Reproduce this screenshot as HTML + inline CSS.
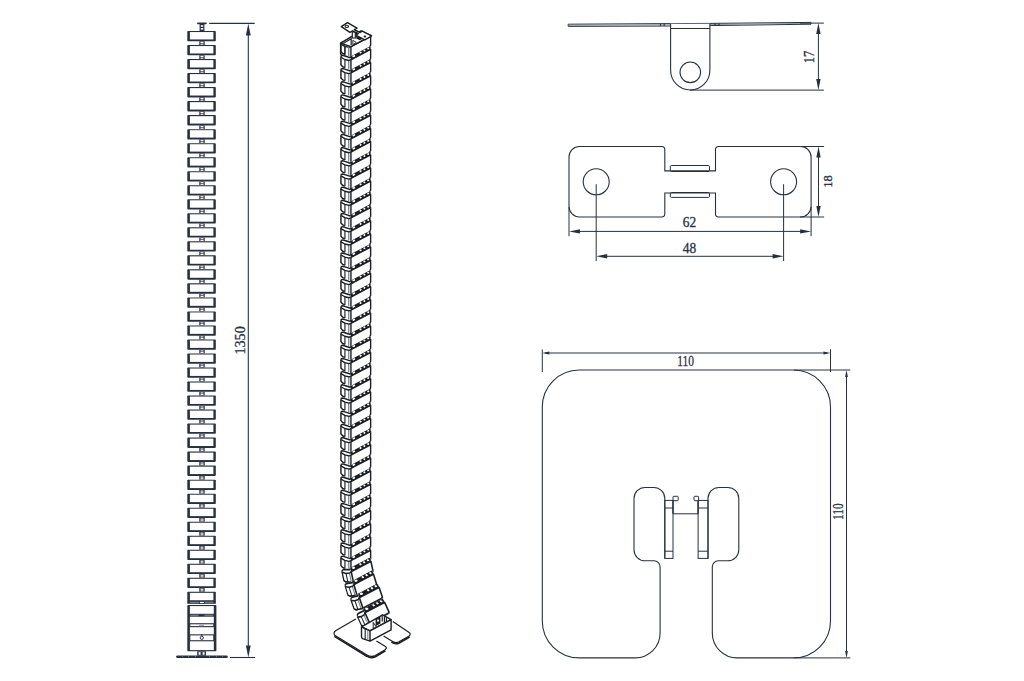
<!DOCTYPE html>
<html><head><meta charset="utf-8"><style>
html,body{margin:0;padding:0;background:#fff;}
svg{display:block;}
text{font-family:"Liberation Serif",serif;}
</style></head><body>
<svg width="1024" height="681" viewBox="0 0 1024 681">
<rect width="1024" height="681" fill="#fff"/>
<rect x="199.6" y="23.4" width="4.8" height="7.6" fill="#283040"/>
<rect x="200.8" y="25.2" width="2.4" height="1.6" fill="#fff"/>
<rect x="200.8" y="28.0" width="2.4" height="1.6" fill="#fff"/>
<rect x="197.1" y="22.6" width="9.6" height="1.6" rx="0.6" fill="#283040"/>
<rect x="187.3" y="31.00" width="28.50" height="10.3" rx="0.8" fill="#283040"/>
<rect x="189.90" y="32.05" width="23.50" height="7.4" fill="#fff"/>
<rect x="199.3" y="41.30" width="5.4" height="3.72" fill="#283040"/>
<rect x="200.5" y="41.90" width="3.0" height="1.1" fill="#fff"/>
<rect x="200.5" y="43.60" width="3.0" height="1.1" fill="#fff"/>
<rect x="187.3" y="45.02" width="28.50" height="10.3" rx="0.8" fill="#283040"/>
<rect x="189.90" y="46.07" width="23.50" height="7.4" fill="#fff"/>
<rect x="199.3" y="55.32" width="5.4" height="3.72" fill="#283040"/>
<rect x="200.5" y="55.92" width="3.0" height="1.1" fill="#fff"/>
<rect x="200.5" y="57.62" width="3.0" height="1.1" fill="#fff"/>
<rect x="187.3" y="59.04" width="28.50" height="10.3" rx="0.8" fill="#283040"/>
<rect x="189.90" y="60.09" width="23.50" height="7.4" fill="#fff"/>
<rect x="199.3" y="69.34" width="5.4" height="3.72" fill="#283040"/>
<rect x="200.5" y="69.94" width="3.0" height="1.1" fill="#fff"/>
<rect x="200.5" y="71.64" width="3.0" height="1.1" fill="#fff"/>
<rect x="187.3" y="73.06" width="28.50" height="10.3" rx="0.8" fill="#283040"/>
<rect x="189.90" y="74.11" width="23.50" height="7.4" fill="#fff"/>
<rect x="199.3" y="83.36" width="5.4" height="3.72" fill="#283040"/>
<rect x="200.5" y="83.96" width="3.0" height="1.1" fill="#fff"/>
<rect x="200.5" y="85.66" width="3.0" height="1.1" fill="#fff"/>
<rect x="187.3" y="87.08" width="28.50" height="10.3" rx="0.8" fill="#283040"/>
<rect x="189.90" y="88.13" width="23.50" height="7.4" fill="#fff"/>
<rect x="199.3" y="97.38" width="5.4" height="3.72" fill="#283040"/>
<rect x="200.5" y="97.98" width="3.0" height="1.1" fill="#fff"/>
<rect x="200.5" y="99.68" width="3.0" height="1.1" fill="#fff"/>
<rect x="187.3" y="101.10" width="28.50" height="10.3" rx="0.8" fill="#283040"/>
<rect x="189.90" y="102.15" width="23.50" height="7.4" fill="#fff"/>
<rect x="199.3" y="111.40" width="5.4" height="3.72" fill="#283040"/>
<rect x="200.5" y="112.00" width="3.0" height="1.1" fill="#fff"/>
<rect x="200.5" y="113.70" width="3.0" height="1.1" fill="#fff"/>
<rect x="187.3" y="115.12" width="28.50" height="10.3" rx="0.8" fill="#283040"/>
<rect x="189.90" y="116.17" width="23.50" height="7.4" fill="#fff"/>
<rect x="199.3" y="125.42" width="5.4" height="3.72" fill="#283040"/>
<rect x="200.5" y="126.02" width="3.0" height="1.1" fill="#fff"/>
<rect x="200.5" y="127.72" width="3.0" height="1.1" fill="#fff"/>
<rect x="187.3" y="129.14" width="28.50" height="10.3" rx="0.8" fill="#283040"/>
<rect x="189.90" y="130.19" width="23.50" height="7.4" fill="#fff"/>
<rect x="199.3" y="139.44" width="5.4" height="3.72" fill="#283040"/>
<rect x="200.5" y="140.04" width="3.0" height="1.1" fill="#fff"/>
<rect x="200.5" y="141.74" width="3.0" height="1.1" fill="#fff"/>
<rect x="187.3" y="143.16" width="28.50" height="10.3" rx="0.8" fill="#283040"/>
<rect x="189.90" y="144.21" width="23.50" height="7.4" fill="#fff"/>
<rect x="199.3" y="153.46" width="5.4" height="3.72" fill="#283040"/>
<rect x="200.5" y="154.06" width="3.0" height="1.1" fill="#fff"/>
<rect x="200.5" y="155.76" width="3.0" height="1.1" fill="#fff"/>
<rect x="187.3" y="157.18" width="28.50" height="10.3" rx="0.8" fill="#283040"/>
<rect x="189.90" y="158.23" width="23.50" height="7.4" fill="#fff"/>
<rect x="199.3" y="167.48" width="5.4" height="3.72" fill="#283040"/>
<rect x="200.5" y="168.08" width="3.0" height="1.1" fill="#fff"/>
<rect x="200.5" y="169.78" width="3.0" height="1.1" fill="#fff"/>
<rect x="187.3" y="171.20" width="28.50" height="10.3" rx="0.8" fill="#283040"/>
<rect x="189.90" y="172.25" width="23.50" height="7.4" fill="#fff"/>
<rect x="199.3" y="181.50" width="5.4" height="3.72" fill="#283040"/>
<rect x="200.5" y="182.10" width="3.0" height="1.1" fill="#fff"/>
<rect x="200.5" y="183.80" width="3.0" height="1.1" fill="#fff"/>
<rect x="187.3" y="185.22" width="28.50" height="10.3" rx="0.8" fill="#283040"/>
<rect x="189.90" y="186.27" width="23.50" height="7.4" fill="#fff"/>
<rect x="199.3" y="195.52" width="5.4" height="3.72" fill="#283040"/>
<rect x="200.5" y="196.12" width="3.0" height="1.1" fill="#fff"/>
<rect x="200.5" y="197.82" width="3.0" height="1.1" fill="#fff"/>
<rect x="187.3" y="199.24" width="28.50" height="10.3" rx="0.8" fill="#283040"/>
<rect x="189.90" y="200.29" width="23.50" height="7.4" fill="#fff"/>
<rect x="199.3" y="209.54" width="5.4" height="3.72" fill="#283040"/>
<rect x="200.5" y="210.14" width="3.0" height="1.1" fill="#fff"/>
<rect x="200.5" y="211.84" width="3.0" height="1.1" fill="#fff"/>
<rect x="187.3" y="213.26" width="28.50" height="10.3" rx="0.8" fill="#283040"/>
<rect x="189.90" y="214.31" width="23.50" height="7.4" fill="#fff"/>
<rect x="199.3" y="223.56" width="5.4" height="3.72" fill="#283040"/>
<rect x="200.5" y="224.16" width="3.0" height="1.1" fill="#fff"/>
<rect x="200.5" y="225.86" width="3.0" height="1.1" fill="#fff"/>
<rect x="187.3" y="227.28" width="28.50" height="10.3" rx="0.8" fill="#283040"/>
<rect x="189.90" y="228.33" width="23.50" height="7.4" fill="#fff"/>
<rect x="199.3" y="237.58" width="5.4" height="3.72" fill="#283040"/>
<rect x="200.5" y="238.18" width="3.0" height="1.1" fill="#fff"/>
<rect x="200.5" y="239.88" width="3.0" height="1.1" fill="#fff"/>
<rect x="187.3" y="241.30" width="28.50" height="10.3" rx="0.8" fill="#283040"/>
<rect x="189.90" y="242.35" width="23.50" height="7.4" fill="#fff"/>
<rect x="199.3" y="251.60" width="5.4" height="3.72" fill="#283040"/>
<rect x="200.5" y="252.20" width="3.0" height="1.1" fill="#fff"/>
<rect x="200.5" y="253.90" width="3.0" height="1.1" fill="#fff"/>
<rect x="187.3" y="255.32" width="28.50" height="10.3" rx="0.8" fill="#283040"/>
<rect x="189.90" y="256.37" width="23.50" height="7.4" fill="#fff"/>
<rect x="199.3" y="265.62" width="5.4" height="3.72" fill="#283040"/>
<rect x="200.5" y="266.22" width="3.0" height="1.1" fill="#fff"/>
<rect x="200.5" y="267.92" width="3.0" height="1.1" fill="#fff"/>
<rect x="187.3" y="269.34" width="28.50" height="10.3" rx="0.8" fill="#283040"/>
<rect x="189.90" y="270.39" width="23.50" height="7.4" fill="#fff"/>
<rect x="199.3" y="279.64" width="5.4" height="3.72" fill="#283040"/>
<rect x="200.5" y="280.24" width="3.0" height="1.1" fill="#fff"/>
<rect x="200.5" y="281.94" width="3.0" height="1.1" fill="#fff"/>
<rect x="187.3" y="283.36" width="28.50" height="10.3" rx="0.8" fill="#283040"/>
<rect x="189.90" y="284.41" width="23.50" height="7.4" fill="#fff"/>
<rect x="199.3" y="293.66" width="5.4" height="3.72" fill="#283040"/>
<rect x="200.5" y="294.26" width="3.0" height="1.1" fill="#fff"/>
<rect x="200.5" y="295.96" width="3.0" height="1.1" fill="#fff"/>
<rect x="187.3" y="297.38" width="28.50" height="10.3" rx="0.8" fill="#283040"/>
<rect x="189.90" y="298.43" width="23.50" height="7.4" fill="#fff"/>
<rect x="199.3" y="307.68" width="5.4" height="3.72" fill="#283040"/>
<rect x="200.5" y="308.28" width="3.0" height="1.1" fill="#fff"/>
<rect x="200.5" y="309.98" width="3.0" height="1.1" fill="#fff"/>
<rect x="187.3" y="311.40" width="28.50" height="10.3" rx="0.8" fill="#283040"/>
<rect x="189.90" y="312.45" width="23.50" height="7.4" fill="#fff"/>
<rect x="199.3" y="321.70" width="5.4" height="3.72" fill="#283040"/>
<rect x="200.5" y="322.30" width="3.0" height="1.1" fill="#fff"/>
<rect x="200.5" y="324.00" width="3.0" height="1.1" fill="#fff"/>
<rect x="187.3" y="325.42" width="28.50" height="10.3" rx="0.8" fill="#283040"/>
<rect x="189.90" y="326.47" width="23.50" height="7.4" fill="#fff"/>
<rect x="199.3" y="335.72" width="5.4" height="3.72" fill="#283040"/>
<rect x="200.5" y="336.32" width="3.0" height="1.1" fill="#fff"/>
<rect x="200.5" y="338.02" width="3.0" height="1.1" fill="#fff"/>
<rect x="187.3" y="339.44" width="28.50" height="10.3" rx="0.8" fill="#283040"/>
<rect x="189.90" y="340.49" width="23.50" height="7.4" fill="#fff"/>
<rect x="199.3" y="349.74" width="5.4" height="3.72" fill="#283040"/>
<rect x="200.5" y="350.34" width="3.0" height="1.1" fill="#fff"/>
<rect x="200.5" y="352.04" width="3.0" height="1.1" fill="#fff"/>
<rect x="187.3" y="353.46" width="28.50" height="10.3" rx="0.8" fill="#283040"/>
<rect x="189.90" y="354.51" width="23.50" height="7.4" fill="#fff"/>
<rect x="199.3" y="363.76" width="5.4" height="3.72" fill="#283040"/>
<rect x="200.5" y="364.36" width="3.0" height="1.1" fill="#fff"/>
<rect x="200.5" y="366.06" width="3.0" height="1.1" fill="#fff"/>
<rect x="187.3" y="367.48" width="28.50" height="10.3" rx="0.8" fill="#283040"/>
<rect x="189.90" y="368.53" width="23.50" height="7.4" fill="#fff"/>
<rect x="199.3" y="377.78" width="5.4" height="3.72" fill="#283040"/>
<rect x="200.5" y="378.38" width="3.0" height="1.1" fill="#fff"/>
<rect x="200.5" y="380.08" width="3.0" height="1.1" fill="#fff"/>
<rect x="187.3" y="381.50" width="28.50" height="10.3" rx="0.8" fill="#283040"/>
<rect x="189.90" y="382.55" width="23.50" height="7.4" fill="#fff"/>
<rect x="199.3" y="391.80" width="5.4" height="3.72" fill="#283040"/>
<rect x="200.5" y="392.40" width="3.0" height="1.1" fill="#fff"/>
<rect x="200.5" y="394.10" width="3.0" height="1.1" fill="#fff"/>
<rect x="187.3" y="395.52" width="28.50" height="10.3" rx="0.8" fill="#283040"/>
<rect x="189.90" y="396.57" width="23.50" height="7.4" fill="#fff"/>
<rect x="199.3" y="405.82" width="5.4" height="3.72" fill="#283040"/>
<rect x="200.5" y="406.42" width="3.0" height="1.1" fill="#fff"/>
<rect x="200.5" y="408.12" width="3.0" height="1.1" fill="#fff"/>
<rect x="187.3" y="409.54" width="28.50" height="10.3" rx="0.8" fill="#283040"/>
<rect x="189.90" y="410.59" width="23.50" height="7.4" fill="#fff"/>
<rect x="199.3" y="419.84" width="5.4" height="3.72" fill="#283040"/>
<rect x="200.5" y="420.44" width="3.0" height="1.1" fill="#fff"/>
<rect x="200.5" y="422.14" width="3.0" height="1.1" fill="#fff"/>
<rect x="187.3" y="423.56" width="28.50" height="10.3" rx="0.8" fill="#283040"/>
<rect x="189.90" y="424.61" width="23.50" height="7.4" fill="#fff"/>
<rect x="199.3" y="433.86" width="5.4" height="3.72" fill="#283040"/>
<rect x="200.5" y="434.46" width="3.0" height="1.1" fill="#fff"/>
<rect x="200.5" y="436.16" width="3.0" height="1.1" fill="#fff"/>
<rect x="187.3" y="437.58" width="28.50" height="10.3" rx="0.8" fill="#283040"/>
<rect x="189.90" y="438.63" width="23.50" height="7.4" fill="#fff"/>
<rect x="199.3" y="447.88" width="5.4" height="3.72" fill="#283040"/>
<rect x="200.5" y="448.48" width="3.0" height="1.1" fill="#fff"/>
<rect x="200.5" y="450.18" width="3.0" height="1.1" fill="#fff"/>
<rect x="187.3" y="451.60" width="28.50" height="10.3" rx="0.8" fill="#283040"/>
<rect x="189.90" y="452.65" width="23.50" height="7.4" fill="#fff"/>
<rect x="199.3" y="461.90" width="5.4" height="3.72" fill="#283040"/>
<rect x="200.5" y="462.50" width="3.0" height="1.1" fill="#fff"/>
<rect x="200.5" y="464.20" width="3.0" height="1.1" fill="#fff"/>
<rect x="187.3" y="465.62" width="28.50" height="10.3" rx="0.8" fill="#283040"/>
<rect x="189.90" y="466.67" width="23.50" height="7.4" fill="#fff"/>
<rect x="199.3" y="475.92" width="5.4" height="3.72" fill="#283040"/>
<rect x="200.5" y="476.52" width="3.0" height="1.1" fill="#fff"/>
<rect x="200.5" y="478.22" width="3.0" height="1.1" fill="#fff"/>
<rect x="187.3" y="479.64" width="28.50" height="10.3" rx="0.8" fill="#283040"/>
<rect x="189.90" y="480.69" width="23.50" height="7.4" fill="#fff"/>
<rect x="199.3" y="489.94" width="5.4" height="3.72" fill="#283040"/>
<rect x="200.5" y="490.54" width="3.0" height="1.1" fill="#fff"/>
<rect x="200.5" y="492.24" width="3.0" height="1.1" fill="#fff"/>
<rect x="187.3" y="493.66" width="28.50" height="10.3" rx="0.8" fill="#283040"/>
<rect x="189.90" y="494.71" width="23.50" height="7.4" fill="#fff"/>
<rect x="199.3" y="503.96" width="5.4" height="3.72" fill="#283040"/>
<rect x="200.5" y="504.56" width="3.0" height="1.1" fill="#fff"/>
<rect x="200.5" y="506.26" width="3.0" height="1.1" fill="#fff"/>
<rect x="187.3" y="507.68" width="28.50" height="10.3" rx="0.8" fill="#283040"/>
<rect x="189.90" y="508.73" width="23.50" height="7.4" fill="#fff"/>
<rect x="199.3" y="517.98" width="5.4" height="3.72" fill="#283040"/>
<rect x="200.5" y="518.58" width="3.0" height="1.1" fill="#fff"/>
<rect x="200.5" y="520.28" width="3.0" height="1.1" fill="#fff"/>
<rect x="187.3" y="521.70" width="28.50" height="10.3" rx="0.8" fill="#283040"/>
<rect x="189.90" y="522.75" width="23.50" height="7.4" fill="#fff"/>
<rect x="199.3" y="532.00" width="5.4" height="3.72" fill="#283040"/>
<rect x="200.5" y="532.60" width="3.0" height="1.1" fill="#fff"/>
<rect x="200.5" y="534.30" width="3.0" height="1.1" fill="#fff"/>
<rect x="187.3" y="535.72" width="28.50" height="10.3" rx="0.8" fill="#283040"/>
<rect x="189.90" y="536.77" width="23.50" height="7.4" fill="#fff"/>
<rect x="199.3" y="546.02" width="5.4" height="3.72" fill="#283040"/>
<rect x="200.5" y="546.62" width="3.0" height="1.1" fill="#fff"/>
<rect x="200.5" y="548.32" width="3.0" height="1.1" fill="#fff"/>
<rect x="187.3" y="549.74" width="28.50" height="10.3" rx="0.8" fill="#283040"/>
<rect x="189.90" y="550.79" width="23.50" height="7.4" fill="#fff"/>
<rect x="199.3" y="560.04" width="5.4" height="3.72" fill="#283040"/>
<rect x="200.5" y="560.64" width="3.0" height="1.1" fill="#fff"/>
<rect x="200.5" y="562.34" width="3.0" height="1.1" fill="#fff"/>
<rect x="187.3" y="563.76" width="28.50" height="10.3" rx="0.8" fill="#283040"/>
<rect x="189.90" y="564.81" width="23.50" height="7.4" fill="#fff"/>
<rect x="199.3" y="574.06" width="5.4" height="3.72" fill="#283040"/>
<rect x="200.5" y="574.66" width="3.0" height="1.1" fill="#fff"/>
<rect x="200.5" y="576.36" width="3.0" height="1.1" fill="#fff"/>
<rect x="187.3" y="577.78" width="28.50" height="10.3" rx="0.8" fill="#283040"/>
<rect x="189.90" y="578.83" width="23.50" height="7.4" fill="#fff"/>
<rect x="199.3" y="588.08" width="5.4" height="3.72" fill="#283040"/>
<rect x="200.5" y="588.68" width="3.0" height="1.1" fill="#fff"/>
<rect x="200.5" y="590.38" width="3.0" height="1.1" fill="#fff"/>
<rect x="187.3" y="591.80" width="28.50" height="10.3" rx="0.8" fill="#283040"/>
<rect x="189.90" y="592.85" width="23.50" height="7.4" fill="#fff"/>
<rect x="187.3" y="601.20" width="28.50" height="2.6" fill="#283040"/>
<rect x="189.90" y="601.80" width="23.50" height="0.9" fill="#9aa0a8"/>
<rect x="199.5" y="601.40" width="5" height="2.2" fill="#fff" stroke="#283040" stroke-width="0.8"/>
<rect x="187.3" y="605.0" width="29.10" height="46.3" rx="0.8" fill="#283040"/>
<rect x="189.90" y="606.1" width="23.90" height="44.0" fill="#fff"/>
<rect x="189.30" y="613.8" width="24.90" height="2.9" fill="#283040"/>
<rect x="190.30" y="614.7" width="22.90" height="1.0" fill="#8e949c"/>
<rect x="198.5" y="614.4" width="6" height="1.8" fill="#283040"/>
<rect x="189.30" y="623.2" width="24.90" height="4.0" fill="#283040"/>
<rect x="190.30" y="624.3" width="22.90" height="1.8" fill="#fff"/>
<rect x="199" y="624.3" width="5" height="1.8" fill="#aab"/>
<rect x="189.30" y="634.3" width="24.90" height="7.0" fill="#283040"/>
<rect x="190.30" y="635.4" width="22.90" height="4.8" fill="#fff"/>
<circle cx="201.8" cy="637.8" r="1.6" fill="none" stroke="#283040" stroke-width="1"/>
<line x1="201.8" y1="634.3" x2="201.8" y2="636" stroke="#283040" stroke-width="1"/>
<rect x="197.2" y="651.3" width="8.8" height="4.4" fill="#283040"/>
<rect x="198.6" y="652.2" width="2.0" height="2.6" fill="#fff"/>
<rect x="202.6" y="652.2" width="2.0" height="2.6" fill="#fff"/>
<rect x="176.1" y="655.4" width="51.7" height="2.6" rx="1.3" fill="#283040"/>
<rect x="182" y="656.3" width="0.8" height="0.8" fill="#9aa0a8"/>
<rect x="188" y="656.3" width="0.8" height="0.8" fill="#9aa0a8"/>
<rect x="195" y="656.3" width="0.8" height="0.8" fill="#9aa0a8"/>
<rect x="209" y="656.3" width="0.8" height="0.8" fill="#9aa0a8"/>
<rect x="216" y="656.3" width="0.8" height="0.8" fill="#9aa0a8"/>
<rect x="222" y="656.3" width="0.8" height="0.8" fill="#9aa0a8"/>
<line x1="209.20" y1="23.40" x2="254.70" y2="23.40" stroke="#283040" stroke-width="1.1"/>
<line x1="230.00" y1="657.50" x2="255.00" y2="657.50" stroke="#283040" stroke-width="1.1"/>
<line x1="248.30" y1="30.00" x2="248.30" y2="650.00" stroke="#283040" stroke-width="1.1"/>
<path d="M248.30,23.40 L250.70,35.40 L245.90,35.40 Z" fill="#283040"/>
<path d="M248.30,657.50 L245.90,645.50 L250.70,645.50 Z" fill="#283040"/>
<text x="240.1" y="340.4" font-size="14.0" text-anchor="middle" dominant-baseline="central" fill="#283040" stroke="#283040" stroke-width="0.3" textLength="28.2" lengthAdjust="spacingAndGlyphs" transform="rotate(-90 240.1 340.4)">1350</text>
<path d="M568.2,24.2 L670.6,23.6 L709.9,23.4 L811,22.4 L811,24.2 L709.9,25.6 L670.6,26.0 L568.2,26.4 Z" fill="#fff" stroke="#283040" stroke-width="1"/>
<path d="M568.2,25.3 L670,24.8 M710,24.6 L811,23.3" stroke="#7a8088" stroke-width="0.8"/>
<rect x="659.9" y="23.9" width="1.2" height="2.0" fill="#283040"/>
<rect x="663.6" y="23.9" width="1.2" height="2.0" fill="#283040"/>
<rect x="714.4" y="23.5" width="1.2" height="1.9" fill="#283040"/>
<rect x="718.4" y="23.5" width="1.2" height="1.9" fill="#283040"/>
<path d="M670.6,23.8 L670.6,70.3 A19.65,19.65 0 0 0 709.9,70.3 L709.9,23.8" fill="#fff" stroke="#283040" stroke-width="1.1"/>
<line x1="670.60" y1="28.50" x2="709.90" y2="28.50" stroke="#283040" stroke-width="1.0"/>
<circle cx="690.3" cy="72.3" r="10.3" fill="none" stroke="#283040" stroke-width="1.1"/>
<line x1="800.00" y1="23.10" x2="823.90" y2="23.10" stroke="#283040" stroke-width="1.0"/>
<line x1="690.00" y1="90.10" x2="823.90" y2="90.10" stroke="#283040" stroke-width="1.0"/>
<line x1="818.40" y1="30.00" x2="818.40" y2="83.00" stroke="#283040" stroke-width="1.0"/>
<path d="M818.40,23.10 L820.60,34.10 L816.20,34.10 Z" fill="#283040"/>
<path d="M818.40,90.10 L816.20,79.10 L820.60,79.10 Z" fill="#283040"/>
<text x="809.6" y="56.9" font-size="13.8" text-anchor="middle" dominant-baseline="central" fill="#283040" stroke="#283040" stroke-width="0.3" textLength="12.6" lengthAdjust="spacingAndGlyphs" transform="rotate(-90 809.6 56.9)">17</text>
<path d="M579.5,146.5 L661.5999999999999,146.5 Q664.8,146.5 664.8,149.7 L664.8,170.9 L715.5,170.9 L715.5,149.7 Q715.5,146.5 718.7,146.5 L800.6,146.5 A10.5,10.5 0 0 1 811.1,157.0 L811.1,206.5 A10.5,10.5 0 0 1 800.6,217.0 L718.7,217.0 Q715.5,217.0 715.5,213.8 L715.5,193.0 L664.8,193.0 L664.8,213.8 Q664.8,217.0 661.5999999999999,217.0 L579.5,217.0 A10.5,10.5 0 0 1 569.0,206.5 L569.0,157.0 A10.5,10.5 0 0 1 579.5,146.5 Z" fill="none" stroke="#283040" stroke-width="1.1"/>
<rect x="670.3" y="165.5" width="39.2" height="6.0" rx="1.2" fill="none" stroke="#283040" stroke-width="1"/>
<rect x="670.3" y="192.5" width="39.2" height="4.9" rx="1.2" fill="none" stroke="#283040" stroke-width="1"/>
<circle cx="596.2" cy="181.8" r="13" fill="none" stroke="#283040" stroke-width="1.1"/>
<circle cx="783.6" cy="181.8" r="13" fill="none" stroke="#283040" stroke-width="1.1"/>
<line x1="800.00" y1="146.50" x2="824.10" y2="146.50" stroke="#283040" stroke-width="1.0"/>
<line x1="800.00" y1="217.00" x2="824.10" y2="217.00" stroke="#283040" stroke-width="1.0"/>
<line x1="818.50" y1="152.00" x2="818.50" y2="211.00" stroke="#283040" stroke-width="1.0"/>
<path d="M818.50,146.50 L820.70,157.50 L816.30,157.50 Z" fill="#283040"/>
<path d="M818.50,217.00 L816.30,206.00 L820.70,206.00 Z" fill="#283040"/>
<text x="827.2" y="181.6" font-size="13.5" text-anchor="middle" dominant-baseline="central" fill="#283040" stroke="#283040" stroke-width="0.3" textLength="12.5" lengthAdjust="spacingAndGlyphs" transform="rotate(-90 827.2 181.6)">18</text>
<line x1="569.00" y1="207.00" x2="569.00" y2="236.20" stroke="#283040" stroke-width="1.0"/>
<line x1="811.10" y1="207.00" x2="811.10" y2="236.20" stroke="#283040" stroke-width="1.0"/>
<line x1="575.00" y1="231.40" x2="805.00" y2="231.40" stroke="#283040" stroke-width="1.0"/>
<path d="M569.00,231.40 L580.00,229.20 L580.00,233.60 Z" fill="#283040"/>
<path d="M811.10,231.40 L800.10,233.60 L800.10,229.20 Z" fill="#283040"/>
<text x="689.5" y="222.6" font-size="13.9" text-anchor="middle" dominant-baseline="central" fill="#283040" stroke="#283040" stroke-width="0.3" textLength="13.4" lengthAdjust="spacingAndGlyphs">62</text>
<line x1="596.20" y1="184.20" x2="596.20" y2="261.00" stroke="#283040" stroke-width="1.0"/>
<line x1="783.60" y1="184.20" x2="783.60" y2="261.00" stroke="#283040" stroke-width="1.0"/>
<line x1="602.00" y1="256.30" x2="778.00" y2="256.30" stroke="#283040" stroke-width="1.0"/>
<path d="M596.20,256.30 L607.20,254.10 L607.20,258.50 Z" fill="#283040"/>
<path d="M783.60,256.30 L772.60,258.50 L772.60,254.10 Z" fill="#283040"/>
<text x="689.5" y="248.3" font-size="13.9" text-anchor="middle" dominant-baseline="central" fill="#283040" stroke="#283040" stroke-width="0.3" textLength="13.4" lengthAdjust="spacingAndGlyphs">48</text>
<path d="M579.3,370.0 L793.5,370.0 A37,37 0 0 1 830.5,407.0 L830.5,620.9 A37,37 0 0 1 793.5,657.9 L737.3,657.9 A25,25 0 0 1 712.3,632.9 L712.3,566.8 A6,6 0 0 1 718.3,560.8 L727.8,560.8 A11,11 0 0 0 738.8,549.8 L738.8,498.5 A11,11 0 0 0 727.8,487.5 L719,487.5 A11,11 0 0 0 708,498.5 L708,558.4 M664.8,558.4 L664.8,498.5 A11,11 0 0 0 653.8,487.5 L645.0,487.5 A11,11 0 0 0 634.0,498.5 L634.0,549.8 A11,11 0 0 0 645.0,560.8 L654.1,560.8 A6,6 0 0 1 660.1,566.8 L660.1,632.9 A25,25 0 0 1 635.1,657.9 L579.3,657.9 A37,37 0 0 1 542.3,620.9 L542.3,407.0 A37,37 0 0 1 579.3,370.0" fill="none" stroke="#283040" stroke-width="1.1"/>
<rect x="664.8" y="500.4" width="8.2" height="58.0" fill="none" stroke="#283040" stroke-width="1"/>
<line x1="664.80" y1="508.00" x2="673.00" y2="508.00" stroke="#283040" stroke-width="1.0"/>
<line x1="664.80" y1="551.20" x2="673.00" y2="551.20" stroke="#283040" stroke-width="1.0"/>
<rect x="698.1" y="500.4" width="9.9" height="58.0" fill="none" stroke="#283040" stroke-width="1"/>
<line x1="698.10" y1="508.00" x2="708.00" y2="508.00" stroke="#283040" stroke-width="1.0"/>
<line x1="698.10" y1="551.20" x2="708.00" y2="551.20" stroke="#283040" stroke-width="1.0"/>
<path d="M673,513.8 L698.1,513.8" stroke="#283040" stroke-width="1"/>
<rect x="673" y="496.3" width="5.2" height="4.4" rx="0.8" fill="none" stroke="#283040" stroke-width="1"/>
<rect x="694" y="496.3" width="4.6" height="4.4" rx="0.8" fill="none" stroke="#283040" stroke-width="1"/>
<line x1="673" y1="500.4" x2="673" y2="513.8" stroke="#283040" stroke-width="1.4"/>
<line x1="698.1" y1="500.4" x2="698.1" y2="513.8" stroke="#283040" stroke-width="1.4"/>
<line x1="542.30" y1="349.50" x2="542.30" y2="372.00" stroke="#283040" stroke-width="1.0"/>
<line x1="830.50" y1="349.20" x2="830.50" y2="372.00" stroke="#283040" stroke-width="1.0"/>
<line x1="545.00" y1="353.00" x2="827.00" y2="353.00" stroke="#283040" stroke-width="1.0"/>
<path d="M542.30,353.00 L549.30,351.60 L549.30,354.40 Z" fill="#283040"/>
<path d="M830.50,353.00 L823.50,354.40 L823.50,351.60 Z" fill="#283040"/>
<text x="685.7" y="360.8" font-size="15.3" text-anchor="middle" dominant-baseline="central" fill="#283040" stroke="#283040" stroke-width="0.3" textLength="16.8" lengthAdjust="spacingAndGlyphs">110</text>
<line x1="794.00" y1="370.00" x2="850.30" y2="370.00" stroke="#283040" stroke-width="1.0"/>
<line x1="794.00" y1="657.90" x2="850.40" y2="657.90" stroke="#283040" stroke-width="1.0"/>
<line x1="846.50" y1="374.00" x2="846.50" y2="654.00" stroke="#283040" stroke-width="1.0"/>
<path d="M846.50,370.00 L847.90,377.00 L845.10,377.00 Z" fill="#283040"/>
<path d="M846.50,657.90 L845.10,650.90 L847.90,650.90 Z" fill="#283040"/>
<text x="837.9" y="511.7" font-size="15.3" text-anchor="middle" dominant-baseline="central" fill="#283040" stroke="#283040" stroke-width="0.3" textLength="16.5" lengthAdjust="spacingAndGlyphs" transform="rotate(-90 837.9 511.7)">110</text>
<g transform="translate(350.93,46.60)"><path d="M-10.3,-3.0 Q-10.3,-4.6 -8.3,-4.6 L-6.1,-3.9 L0,-3.45 L0,9.75 L-6.1,7.9 L-8.3,7.1 L-10.3,5.1 Z" fill="#fff"/><path d="M-10.0,-3.0 L-10.0,5.0 L-8.3,6.9 L-6.1,7.7" fill="none" stroke="#1b1e23" stroke-width="1.45" stroke-linejoin="round"/><line x1="-6.0" y1="-0.3" x2="-6.0" y2="7.9" stroke="#1b1e23" stroke-width="1.15"/><line x1="-2.2" y1="0.6" x2="-2.2" y2="9.6" stroke="#7a8088" stroke-width="1.2"/><path d="M-10.0,-2.9 Q-10.0,-4.4 -8.3,-4.45 L-6.1,-3.8 L-0.6,-2.0 L0,-3.45" fill="none" stroke="#1b1e23" stroke-width="1.45" stroke-linejoin="round"/><path d="M-10.0,-2.5 L-6.1,-0.3 L-1.9,0.7 L0,-0.1" fill="none" stroke="#1b1e23" stroke-width="1.35" stroke-linejoin="round"/><path d="M0,-3.45 L19.7,-13.79 L19.7,-0.59 L0,9.75 Z" fill="#fff"/><path d="M0,0 L19.7,-10.34 L19.7,-1.79 Q19.7,-0.59 18.60,0.01" fill="none" stroke="#1b1e23" stroke-width="1.4" stroke-linejoin="round"/><line x1="0" y1="-0.3" x2="0" y2="9.75" stroke="#1b1e23" stroke-width="1.4"/></g>
<g transform="translate(350.93,59.78)"><path d="M-10.3,-3.0 Q-10.3,-4.6 -8.3,-4.6 L-6.1,-3.9 L0,-3.45 L0,9.75 L-6.1,7.9 L-8.3,7.1 L-10.3,5.1 Z" fill="#fff"/><path d="M-10.0,-3.0 L-10.0,5.0 L-8.3,6.9 L-6.1,7.7" fill="none" stroke="#1b1e23" stroke-width="1.45" stroke-linejoin="round"/><line x1="-6.0" y1="-0.3" x2="-6.0" y2="7.9" stroke="#1b1e23" stroke-width="1.15"/><line x1="-2.2" y1="0.6" x2="-2.2" y2="9.6" stroke="#7a8088" stroke-width="1.2"/><path d="M-10.0,-2.9 Q-10.0,-4.4 -8.3,-4.45 L-6.1,-3.8 L-0.6,-2.0 L0,-3.45" fill="none" stroke="#1b1e23" stroke-width="1.45" stroke-linejoin="round"/><path d="M-10.0,-2.5 L-6.1,-0.3 L-1.9,0.7 L0,-0.1" fill="none" stroke="#1b1e23" stroke-width="1.35" stroke-linejoin="round"/><path d="M0,-3.45 L19.7,-13.79 L19.7,-0.59 L0,9.75 Z" fill="#fff"/><path d="M0,-3.45 L19.10,-13.59 Q19.7,-13.39 19.7,-12.59 L19.7,-10.34 L0,0 Z" fill="#1b1e23"/><rect x="1.50" y="-4.50" width="2.8" height="1.8" rx="0.7" fill="#fff" transform="rotate(-27 2.90 -3.55)"/><rect x="8.70" y="-8.07" width="2.0" height="1.8" rx="0.7" fill="#fff" transform="rotate(-27 9.70 -7.12)"/><rect x="12.50" y="-10.06" width="2.0" height="1.8" rx="0.7" fill="#fff" transform="rotate(-27 13.50 -9.11)"/><rect x="16.30" y="-12.06" width="2.0" height="1.8" rx="0.7" fill="#fff" transform="rotate(-27 17.30 -11.11)"/><path d="M0,0 L19.7,-10.34 L19.7,-1.79 Q19.7,-0.59 18.60,0.01" fill="none" stroke="#1b1e23" stroke-width="1.4" stroke-linejoin="round"/><line x1="0" y1="-0.3" x2="0" y2="9.75" stroke="#1b1e23" stroke-width="1.4"/></g>
<g transform="translate(350.93,72.96)"><path d="M-10.3,-3.0 Q-10.3,-4.6 -8.3,-4.6 L-6.1,-3.9 L0,-3.45 L0,9.75 L-6.1,7.9 L-8.3,7.1 L-10.3,5.1 Z" fill="#fff"/><path d="M-10.0,-3.0 L-10.0,5.0 L-8.3,6.9 L-6.1,7.7" fill="none" stroke="#1b1e23" stroke-width="1.45" stroke-linejoin="round"/><line x1="-6.0" y1="-0.3" x2="-6.0" y2="7.9" stroke="#1b1e23" stroke-width="1.15"/><line x1="-2.2" y1="0.6" x2="-2.2" y2="9.6" stroke="#7a8088" stroke-width="1.2"/><path d="M-10.0,-2.9 Q-10.0,-4.4 -8.3,-4.45 L-6.1,-3.8 L-0.6,-2.0 L0,-3.45" fill="none" stroke="#1b1e23" stroke-width="1.45" stroke-linejoin="round"/><path d="M-10.0,-2.5 L-6.1,-0.3 L-1.9,0.7 L0,-0.1" fill="none" stroke="#1b1e23" stroke-width="1.35" stroke-linejoin="round"/><path d="M0,-3.45 L19.7,-13.79 L19.7,-0.59 L0,9.75 Z" fill="#fff"/><path d="M0,-3.45 L19.10,-13.59 Q19.7,-13.39 19.7,-12.59 L19.7,-10.34 L0,0 Z" fill="#1b1e23"/><rect x="1.50" y="-4.50" width="2.8" height="1.8" rx="0.7" fill="#fff" transform="rotate(-27 2.90 -3.55)"/><rect x="8.70" y="-8.07" width="2.0" height="1.8" rx="0.7" fill="#fff" transform="rotate(-27 9.70 -7.12)"/><rect x="12.50" y="-10.06" width="2.0" height="1.8" rx="0.7" fill="#fff" transform="rotate(-27 13.50 -9.11)"/><rect x="16.30" y="-12.06" width="2.0" height="1.8" rx="0.7" fill="#fff" transform="rotate(-27 17.30 -11.11)"/><path d="M0,0 L19.7,-10.34 L19.7,-1.79 Q19.7,-0.59 18.60,0.01" fill="none" stroke="#1b1e23" stroke-width="1.4" stroke-linejoin="round"/><line x1="0" y1="-0.3" x2="0" y2="9.75" stroke="#1b1e23" stroke-width="1.4"/></g>
<g transform="translate(350.93,86.14)"><path d="M-10.3,-3.0 Q-10.3,-4.6 -8.3,-4.6 L-6.1,-3.9 L0,-3.45 L0,9.75 L-6.1,7.9 L-8.3,7.1 L-10.3,5.1 Z" fill="#fff"/><path d="M-10.0,-3.0 L-10.0,5.0 L-8.3,6.9 L-6.1,7.7" fill="none" stroke="#1b1e23" stroke-width="1.45" stroke-linejoin="round"/><line x1="-6.0" y1="-0.3" x2="-6.0" y2="7.9" stroke="#1b1e23" stroke-width="1.15"/><line x1="-2.2" y1="0.6" x2="-2.2" y2="9.6" stroke="#7a8088" stroke-width="1.2"/><path d="M-10.0,-2.9 Q-10.0,-4.4 -8.3,-4.45 L-6.1,-3.8 L-0.6,-2.0 L0,-3.45" fill="none" stroke="#1b1e23" stroke-width="1.45" stroke-linejoin="round"/><path d="M-10.0,-2.5 L-6.1,-0.3 L-1.9,0.7 L0,-0.1" fill="none" stroke="#1b1e23" stroke-width="1.35" stroke-linejoin="round"/><path d="M0,-3.45 L19.7,-13.79 L19.7,-0.59 L0,9.75 Z" fill="#fff"/><path d="M0,-3.45 L19.10,-13.59 Q19.7,-13.39 19.7,-12.59 L19.7,-10.34 L0,0 Z" fill="#1b1e23"/><rect x="1.50" y="-4.50" width="2.8" height="1.8" rx="0.7" fill="#fff" transform="rotate(-27 2.90 -3.55)"/><rect x="8.70" y="-8.07" width="2.0" height="1.8" rx="0.7" fill="#fff" transform="rotate(-27 9.70 -7.12)"/><rect x="12.50" y="-10.06" width="2.0" height="1.8" rx="0.7" fill="#fff" transform="rotate(-27 13.50 -9.11)"/><rect x="16.30" y="-12.06" width="2.0" height="1.8" rx="0.7" fill="#fff" transform="rotate(-27 17.30 -11.11)"/><path d="M0,0 L19.7,-10.34 L19.7,-1.79 Q19.7,-0.59 18.60,0.01" fill="none" stroke="#1b1e23" stroke-width="1.4" stroke-linejoin="round"/><line x1="0" y1="-0.3" x2="0" y2="9.75" stroke="#1b1e23" stroke-width="1.4"/></g>
<g transform="translate(350.93,99.32)"><path d="M-10.3,-3.0 Q-10.3,-4.6 -8.3,-4.6 L-6.1,-3.9 L0,-3.45 L0,9.75 L-6.1,7.9 L-8.3,7.1 L-10.3,5.1 Z" fill="#fff"/><path d="M-10.0,-3.0 L-10.0,5.0 L-8.3,6.9 L-6.1,7.7" fill="none" stroke="#1b1e23" stroke-width="1.45" stroke-linejoin="round"/><line x1="-6.0" y1="-0.3" x2="-6.0" y2="7.9" stroke="#1b1e23" stroke-width="1.15"/><line x1="-2.2" y1="0.6" x2="-2.2" y2="9.6" stroke="#7a8088" stroke-width="1.2"/><path d="M-10.0,-2.9 Q-10.0,-4.4 -8.3,-4.45 L-6.1,-3.8 L-0.6,-2.0 L0,-3.45" fill="none" stroke="#1b1e23" stroke-width="1.45" stroke-linejoin="round"/><path d="M-10.0,-2.5 L-6.1,-0.3 L-1.9,0.7 L0,-0.1" fill="none" stroke="#1b1e23" stroke-width="1.35" stroke-linejoin="round"/><path d="M0,-3.45 L19.7,-13.79 L19.7,-0.59 L0,9.75 Z" fill="#fff"/><path d="M0,-3.45 L19.10,-13.59 Q19.7,-13.39 19.7,-12.59 L19.7,-10.34 L0,0 Z" fill="#1b1e23"/><rect x="1.50" y="-4.50" width="2.8" height="1.8" rx="0.7" fill="#fff" transform="rotate(-27 2.90 -3.55)"/><rect x="8.70" y="-8.07" width="2.0" height="1.8" rx="0.7" fill="#fff" transform="rotate(-27 9.70 -7.12)"/><rect x="12.50" y="-10.06" width="2.0" height="1.8" rx="0.7" fill="#fff" transform="rotate(-27 13.50 -9.11)"/><rect x="16.30" y="-12.06" width="2.0" height="1.8" rx="0.7" fill="#fff" transform="rotate(-27 17.30 -11.11)"/><path d="M0,0 L19.7,-10.34 L19.7,-1.79 Q19.7,-0.59 18.60,0.01" fill="none" stroke="#1b1e23" stroke-width="1.4" stroke-linejoin="round"/><line x1="0" y1="-0.3" x2="0" y2="9.75" stroke="#1b1e23" stroke-width="1.4"/></g>
<g transform="translate(350.93,112.50)"><path d="M-10.3,-3.0 Q-10.3,-4.6 -8.3,-4.6 L-6.1,-3.9 L0,-3.45 L0,9.75 L-6.1,7.9 L-8.3,7.1 L-10.3,5.1 Z" fill="#fff"/><path d="M-10.0,-3.0 L-10.0,5.0 L-8.3,6.9 L-6.1,7.7" fill="none" stroke="#1b1e23" stroke-width="1.45" stroke-linejoin="round"/><line x1="-6.0" y1="-0.3" x2="-6.0" y2="7.9" stroke="#1b1e23" stroke-width="1.15"/><line x1="-2.2" y1="0.6" x2="-2.2" y2="9.6" stroke="#7a8088" stroke-width="1.2"/><path d="M-10.0,-2.9 Q-10.0,-4.4 -8.3,-4.45 L-6.1,-3.8 L-0.6,-2.0 L0,-3.45" fill="none" stroke="#1b1e23" stroke-width="1.45" stroke-linejoin="round"/><path d="M-10.0,-2.5 L-6.1,-0.3 L-1.9,0.7 L0,-0.1" fill="none" stroke="#1b1e23" stroke-width="1.35" stroke-linejoin="round"/><path d="M0,-3.45 L19.7,-13.79 L19.7,-0.59 L0,9.75 Z" fill="#fff"/><path d="M0,-3.45 L19.10,-13.59 Q19.7,-13.39 19.7,-12.59 L19.7,-10.34 L0,0 Z" fill="#1b1e23"/><rect x="1.50" y="-4.50" width="2.8" height="1.8" rx="0.7" fill="#fff" transform="rotate(-27 2.90 -3.55)"/><rect x="8.70" y="-8.07" width="2.0" height="1.8" rx="0.7" fill="#fff" transform="rotate(-27 9.70 -7.12)"/><rect x="12.50" y="-10.06" width="2.0" height="1.8" rx="0.7" fill="#fff" transform="rotate(-27 13.50 -9.11)"/><rect x="16.30" y="-12.06" width="2.0" height="1.8" rx="0.7" fill="#fff" transform="rotate(-27 17.30 -11.11)"/><path d="M0,0 L19.7,-10.34 L19.7,-1.79 Q19.7,-0.59 18.60,0.01" fill="none" stroke="#1b1e23" stroke-width="1.4" stroke-linejoin="round"/><line x1="0" y1="-0.3" x2="0" y2="9.75" stroke="#1b1e23" stroke-width="1.4"/></g>
<g transform="translate(350.93,125.68)"><path d="M-10.3,-3.0 Q-10.3,-4.6 -8.3,-4.6 L-6.1,-3.9 L0,-3.45 L0,9.75 L-6.1,7.9 L-8.3,7.1 L-10.3,5.1 Z" fill="#fff"/><path d="M-10.0,-3.0 L-10.0,5.0 L-8.3,6.9 L-6.1,7.7" fill="none" stroke="#1b1e23" stroke-width="1.45" stroke-linejoin="round"/><line x1="-6.0" y1="-0.3" x2="-6.0" y2="7.9" stroke="#1b1e23" stroke-width="1.15"/><line x1="-2.2" y1="0.6" x2="-2.2" y2="9.6" stroke="#7a8088" stroke-width="1.2"/><path d="M-10.0,-2.9 Q-10.0,-4.4 -8.3,-4.45 L-6.1,-3.8 L-0.6,-2.0 L0,-3.45" fill="none" stroke="#1b1e23" stroke-width="1.45" stroke-linejoin="round"/><path d="M-10.0,-2.5 L-6.1,-0.3 L-1.9,0.7 L0,-0.1" fill="none" stroke="#1b1e23" stroke-width="1.35" stroke-linejoin="round"/><path d="M0,-3.45 L19.7,-13.79 L19.7,-0.59 L0,9.75 Z" fill="#fff"/><path d="M0,-3.45 L19.10,-13.59 Q19.7,-13.39 19.7,-12.59 L19.7,-10.34 L0,0 Z" fill="#1b1e23"/><rect x="1.50" y="-4.50" width="2.8" height="1.8" rx="0.7" fill="#fff" transform="rotate(-27 2.90 -3.55)"/><rect x="8.70" y="-8.07" width="2.0" height="1.8" rx="0.7" fill="#fff" transform="rotate(-27 9.70 -7.12)"/><rect x="12.50" y="-10.06" width="2.0" height="1.8" rx="0.7" fill="#fff" transform="rotate(-27 13.50 -9.11)"/><rect x="16.30" y="-12.06" width="2.0" height="1.8" rx="0.7" fill="#fff" transform="rotate(-27 17.30 -11.11)"/><path d="M0,0 L19.7,-10.34 L19.7,-1.79 Q19.7,-0.59 18.60,0.01" fill="none" stroke="#1b1e23" stroke-width="1.4" stroke-linejoin="round"/><line x1="0" y1="-0.3" x2="0" y2="9.75" stroke="#1b1e23" stroke-width="1.4"/></g>
<g transform="translate(350.93,138.86)"><path d="M-10.3,-3.0 Q-10.3,-4.6 -8.3,-4.6 L-6.1,-3.9 L0,-3.45 L0,9.75 L-6.1,7.9 L-8.3,7.1 L-10.3,5.1 Z" fill="#fff"/><path d="M-10.0,-3.0 L-10.0,5.0 L-8.3,6.9 L-6.1,7.7" fill="none" stroke="#1b1e23" stroke-width="1.45" stroke-linejoin="round"/><line x1="-6.0" y1="-0.3" x2="-6.0" y2="7.9" stroke="#1b1e23" stroke-width="1.15"/><line x1="-2.2" y1="0.6" x2="-2.2" y2="9.6" stroke="#7a8088" stroke-width="1.2"/><path d="M-10.0,-2.9 Q-10.0,-4.4 -8.3,-4.45 L-6.1,-3.8 L-0.6,-2.0 L0,-3.45" fill="none" stroke="#1b1e23" stroke-width="1.45" stroke-linejoin="round"/><path d="M-10.0,-2.5 L-6.1,-0.3 L-1.9,0.7 L0,-0.1" fill="none" stroke="#1b1e23" stroke-width="1.35" stroke-linejoin="round"/><path d="M0,-3.45 L19.7,-13.79 L19.7,-0.59 L0,9.75 Z" fill="#fff"/><path d="M0,-3.45 L19.10,-13.59 Q19.7,-13.39 19.7,-12.59 L19.7,-10.34 L0,0 Z" fill="#1b1e23"/><rect x="1.50" y="-4.50" width="2.8" height="1.8" rx="0.7" fill="#fff" transform="rotate(-27 2.90 -3.55)"/><rect x="8.70" y="-8.07" width="2.0" height="1.8" rx="0.7" fill="#fff" transform="rotate(-27 9.70 -7.12)"/><rect x="12.50" y="-10.06" width="2.0" height="1.8" rx="0.7" fill="#fff" transform="rotate(-27 13.50 -9.11)"/><rect x="16.30" y="-12.06" width="2.0" height="1.8" rx="0.7" fill="#fff" transform="rotate(-27 17.30 -11.11)"/><path d="M0,0 L19.7,-10.34 L19.7,-1.79 Q19.7,-0.59 18.60,0.01" fill="none" stroke="#1b1e23" stroke-width="1.4" stroke-linejoin="round"/><line x1="0" y1="-0.3" x2="0" y2="9.75" stroke="#1b1e23" stroke-width="1.4"/></g>
<g transform="translate(350.93,152.04)"><path d="M-10.3,-3.0 Q-10.3,-4.6 -8.3,-4.6 L-6.1,-3.9 L0,-3.45 L0,9.75 L-6.1,7.9 L-8.3,7.1 L-10.3,5.1 Z" fill="#fff"/><path d="M-10.0,-3.0 L-10.0,5.0 L-8.3,6.9 L-6.1,7.7" fill="none" stroke="#1b1e23" stroke-width="1.45" stroke-linejoin="round"/><line x1="-6.0" y1="-0.3" x2="-6.0" y2="7.9" stroke="#1b1e23" stroke-width="1.15"/><line x1="-2.2" y1="0.6" x2="-2.2" y2="9.6" stroke="#7a8088" stroke-width="1.2"/><path d="M-10.0,-2.9 Q-10.0,-4.4 -8.3,-4.45 L-6.1,-3.8 L-0.6,-2.0 L0,-3.45" fill="none" stroke="#1b1e23" stroke-width="1.45" stroke-linejoin="round"/><path d="M-10.0,-2.5 L-6.1,-0.3 L-1.9,0.7 L0,-0.1" fill="none" stroke="#1b1e23" stroke-width="1.35" stroke-linejoin="round"/><path d="M0,-3.45 L19.7,-13.79 L19.7,-0.59 L0,9.75 Z" fill="#fff"/><path d="M0,-3.45 L19.10,-13.59 Q19.7,-13.39 19.7,-12.59 L19.7,-10.34 L0,0 Z" fill="#1b1e23"/><rect x="1.50" y="-4.50" width="2.8" height="1.8" rx="0.7" fill="#fff" transform="rotate(-27 2.90 -3.55)"/><rect x="8.70" y="-8.07" width="2.0" height="1.8" rx="0.7" fill="#fff" transform="rotate(-27 9.70 -7.12)"/><rect x="12.50" y="-10.06" width="2.0" height="1.8" rx="0.7" fill="#fff" transform="rotate(-27 13.50 -9.11)"/><rect x="16.30" y="-12.06" width="2.0" height="1.8" rx="0.7" fill="#fff" transform="rotate(-27 17.30 -11.11)"/><path d="M0,0 L19.7,-10.34 L19.7,-1.79 Q19.7,-0.59 18.60,0.01" fill="none" stroke="#1b1e23" stroke-width="1.4" stroke-linejoin="round"/><line x1="0" y1="-0.3" x2="0" y2="9.75" stroke="#1b1e23" stroke-width="1.4"/></g>
<g transform="translate(350.93,165.22)"><path d="M-10.3,-3.0 Q-10.3,-4.6 -8.3,-4.6 L-6.1,-3.9 L0,-3.45 L0,9.75 L-6.1,7.9 L-8.3,7.1 L-10.3,5.1 Z" fill="#fff"/><path d="M-10.0,-3.0 L-10.0,5.0 L-8.3,6.9 L-6.1,7.7" fill="none" stroke="#1b1e23" stroke-width="1.45" stroke-linejoin="round"/><line x1="-6.0" y1="-0.3" x2="-6.0" y2="7.9" stroke="#1b1e23" stroke-width="1.15"/><line x1="-2.2" y1="0.6" x2="-2.2" y2="9.6" stroke="#7a8088" stroke-width="1.2"/><path d="M-10.0,-2.9 Q-10.0,-4.4 -8.3,-4.45 L-6.1,-3.8 L-0.6,-2.0 L0,-3.45" fill="none" stroke="#1b1e23" stroke-width="1.45" stroke-linejoin="round"/><path d="M-10.0,-2.5 L-6.1,-0.3 L-1.9,0.7 L0,-0.1" fill="none" stroke="#1b1e23" stroke-width="1.35" stroke-linejoin="round"/><path d="M0,-3.45 L19.7,-13.79 L19.7,-0.59 L0,9.75 Z" fill="#fff"/><path d="M0,-3.45 L19.10,-13.59 Q19.7,-13.39 19.7,-12.59 L19.7,-10.34 L0,0 Z" fill="#1b1e23"/><rect x="1.50" y="-4.50" width="2.8" height="1.8" rx="0.7" fill="#fff" transform="rotate(-27 2.90 -3.55)"/><rect x="8.70" y="-8.07" width="2.0" height="1.8" rx="0.7" fill="#fff" transform="rotate(-27 9.70 -7.12)"/><rect x="12.50" y="-10.06" width="2.0" height="1.8" rx="0.7" fill="#fff" transform="rotate(-27 13.50 -9.11)"/><rect x="16.30" y="-12.06" width="2.0" height="1.8" rx="0.7" fill="#fff" transform="rotate(-27 17.30 -11.11)"/><path d="M0,0 L19.7,-10.34 L19.7,-1.79 Q19.7,-0.59 18.60,0.01" fill="none" stroke="#1b1e23" stroke-width="1.4" stroke-linejoin="round"/><line x1="0" y1="-0.3" x2="0" y2="9.75" stroke="#1b1e23" stroke-width="1.4"/></g>
<g transform="translate(350.93,178.40)"><path d="M-10.3,-3.0 Q-10.3,-4.6 -8.3,-4.6 L-6.1,-3.9 L0,-3.45 L0,9.75 L-6.1,7.9 L-8.3,7.1 L-10.3,5.1 Z" fill="#fff"/><path d="M-10.0,-3.0 L-10.0,5.0 L-8.3,6.9 L-6.1,7.7" fill="none" stroke="#1b1e23" stroke-width="1.45" stroke-linejoin="round"/><line x1="-6.0" y1="-0.3" x2="-6.0" y2="7.9" stroke="#1b1e23" stroke-width="1.15"/><line x1="-2.2" y1="0.6" x2="-2.2" y2="9.6" stroke="#7a8088" stroke-width="1.2"/><path d="M-10.0,-2.9 Q-10.0,-4.4 -8.3,-4.45 L-6.1,-3.8 L-0.6,-2.0 L0,-3.45" fill="none" stroke="#1b1e23" stroke-width="1.45" stroke-linejoin="round"/><path d="M-10.0,-2.5 L-6.1,-0.3 L-1.9,0.7 L0,-0.1" fill="none" stroke="#1b1e23" stroke-width="1.35" stroke-linejoin="round"/><path d="M0,-3.45 L19.7,-13.79 L19.7,-0.59 L0,9.75 Z" fill="#fff"/><path d="M0,-3.45 L19.10,-13.59 Q19.7,-13.39 19.7,-12.59 L19.7,-10.34 L0,0 Z" fill="#1b1e23"/><rect x="1.50" y="-4.50" width="2.8" height="1.8" rx="0.7" fill="#fff" transform="rotate(-27 2.90 -3.55)"/><rect x="8.70" y="-8.07" width="2.0" height="1.8" rx="0.7" fill="#fff" transform="rotate(-27 9.70 -7.12)"/><rect x="12.50" y="-10.06" width="2.0" height="1.8" rx="0.7" fill="#fff" transform="rotate(-27 13.50 -9.11)"/><rect x="16.30" y="-12.06" width="2.0" height="1.8" rx="0.7" fill="#fff" transform="rotate(-27 17.30 -11.11)"/><path d="M0,0 L19.7,-10.34 L19.7,-1.79 Q19.7,-0.59 18.60,0.01" fill="none" stroke="#1b1e23" stroke-width="1.4" stroke-linejoin="round"/><line x1="0" y1="-0.3" x2="0" y2="9.75" stroke="#1b1e23" stroke-width="1.4"/></g>
<g transform="translate(350.93,191.58)"><path d="M-10.3,-3.0 Q-10.3,-4.6 -8.3,-4.6 L-6.1,-3.9 L0,-3.45 L0,9.75 L-6.1,7.9 L-8.3,7.1 L-10.3,5.1 Z" fill="#fff"/><path d="M-10.0,-3.0 L-10.0,5.0 L-8.3,6.9 L-6.1,7.7" fill="none" stroke="#1b1e23" stroke-width="1.45" stroke-linejoin="round"/><line x1="-6.0" y1="-0.3" x2="-6.0" y2="7.9" stroke="#1b1e23" stroke-width="1.15"/><line x1="-2.2" y1="0.6" x2="-2.2" y2="9.6" stroke="#7a8088" stroke-width="1.2"/><path d="M-10.0,-2.9 Q-10.0,-4.4 -8.3,-4.45 L-6.1,-3.8 L-0.6,-2.0 L0,-3.45" fill="none" stroke="#1b1e23" stroke-width="1.45" stroke-linejoin="round"/><path d="M-10.0,-2.5 L-6.1,-0.3 L-1.9,0.7 L0,-0.1" fill="none" stroke="#1b1e23" stroke-width="1.35" stroke-linejoin="round"/><path d="M0,-3.45 L19.7,-13.79 L19.7,-0.59 L0,9.75 Z" fill="#fff"/><path d="M0,-3.45 L19.10,-13.59 Q19.7,-13.39 19.7,-12.59 L19.7,-10.34 L0,0 Z" fill="#1b1e23"/><rect x="1.50" y="-4.50" width="2.8" height="1.8" rx="0.7" fill="#fff" transform="rotate(-27 2.90 -3.55)"/><rect x="8.70" y="-8.07" width="2.0" height="1.8" rx="0.7" fill="#fff" transform="rotate(-27 9.70 -7.12)"/><rect x="12.50" y="-10.06" width="2.0" height="1.8" rx="0.7" fill="#fff" transform="rotate(-27 13.50 -9.11)"/><rect x="16.30" y="-12.06" width="2.0" height="1.8" rx="0.7" fill="#fff" transform="rotate(-27 17.30 -11.11)"/><path d="M0,0 L19.7,-10.34 L19.7,-1.79 Q19.7,-0.59 18.60,0.01" fill="none" stroke="#1b1e23" stroke-width="1.4" stroke-linejoin="round"/><line x1="0" y1="-0.3" x2="0" y2="9.75" stroke="#1b1e23" stroke-width="1.4"/></g>
<g transform="translate(350.93,204.76)"><path d="M-10.3,-3.0 Q-10.3,-4.6 -8.3,-4.6 L-6.1,-3.9 L0,-3.45 L0,9.75 L-6.1,7.9 L-8.3,7.1 L-10.3,5.1 Z" fill="#fff"/><path d="M-10.0,-3.0 L-10.0,5.0 L-8.3,6.9 L-6.1,7.7" fill="none" stroke="#1b1e23" stroke-width="1.45" stroke-linejoin="round"/><line x1="-6.0" y1="-0.3" x2="-6.0" y2="7.9" stroke="#1b1e23" stroke-width="1.15"/><line x1="-2.2" y1="0.6" x2="-2.2" y2="9.6" stroke="#7a8088" stroke-width="1.2"/><path d="M-10.0,-2.9 Q-10.0,-4.4 -8.3,-4.45 L-6.1,-3.8 L-0.6,-2.0 L0,-3.45" fill="none" stroke="#1b1e23" stroke-width="1.45" stroke-linejoin="round"/><path d="M-10.0,-2.5 L-6.1,-0.3 L-1.9,0.7 L0,-0.1" fill="none" stroke="#1b1e23" stroke-width="1.35" stroke-linejoin="round"/><path d="M0,-3.45 L19.7,-13.79 L19.7,-0.59 L0,9.75 Z" fill="#fff"/><path d="M0,-3.45 L19.10,-13.59 Q19.7,-13.39 19.7,-12.59 L19.7,-10.34 L0,0 Z" fill="#1b1e23"/><rect x="1.50" y="-4.50" width="2.8" height="1.8" rx="0.7" fill="#fff" transform="rotate(-27 2.90 -3.55)"/><rect x="8.70" y="-8.07" width="2.0" height="1.8" rx="0.7" fill="#fff" transform="rotate(-27 9.70 -7.12)"/><rect x="12.50" y="-10.06" width="2.0" height="1.8" rx="0.7" fill="#fff" transform="rotate(-27 13.50 -9.11)"/><rect x="16.30" y="-12.06" width="2.0" height="1.8" rx="0.7" fill="#fff" transform="rotate(-27 17.30 -11.11)"/><path d="M0,0 L19.7,-10.34 L19.7,-1.79 Q19.7,-0.59 18.60,0.01" fill="none" stroke="#1b1e23" stroke-width="1.4" stroke-linejoin="round"/><line x1="0" y1="-0.3" x2="0" y2="9.75" stroke="#1b1e23" stroke-width="1.4"/></g>
<g transform="translate(350.93,217.94)"><path d="M-10.3,-3.0 Q-10.3,-4.6 -8.3,-4.6 L-6.1,-3.9 L0,-3.45 L0,9.75 L-6.1,7.9 L-8.3,7.1 L-10.3,5.1 Z" fill="#fff"/><path d="M-10.0,-3.0 L-10.0,5.0 L-8.3,6.9 L-6.1,7.7" fill="none" stroke="#1b1e23" stroke-width="1.45" stroke-linejoin="round"/><line x1="-6.0" y1="-0.3" x2="-6.0" y2="7.9" stroke="#1b1e23" stroke-width="1.15"/><line x1="-2.2" y1="0.6" x2="-2.2" y2="9.6" stroke="#7a8088" stroke-width="1.2"/><path d="M-10.0,-2.9 Q-10.0,-4.4 -8.3,-4.45 L-6.1,-3.8 L-0.6,-2.0 L0,-3.45" fill="none" stroke="#1b1e23" stroke-width="1.45" stroke-linejoin="round"/><path d="M-10.0,-2.5 L-6.1,-0.3 L-1.9,0.7 L0,-0.1" fill="none" stroke="#1b1e23" stroke-width="1.35" stroke-linejoin="round"/><path d="M0,-3.45 L19.7,-13.79 L19.7,-0.59 L0,9.75 Z" fill="#fff"/><path d="M0,-3.45 L19.10,-13.59 Q19.7,-13.39 19.7,-12.59 L19.7,-10.34 L0,0 Z" fill="#1b1e23"/><rect x="1.50" y="-4.50" width="2.8" height="1.8" rx="0.7" fill="#fff" transform="rotate(-27 2.90 -3.55)"/><rect x="8.70" y="-8.07" width="2.0" height="1.8" rx="0.7" fill="#fff" transform="rotate(-27 9.70 -7.12)"/><rect x="12.50" y="-10.06" width="2.0" height="1.8" rx="0.7" fill="#fff" transform="rotate(-27 13.50 -9.11)"/><rect x="16.30" y="-12.06" width="2.0" height="1.8" rx="0.7" fill="#fff" transform="rotate(-27 17.30 -11.11)"/><path d="M0,0 L19.7,-10.34 L19.7,-1.79 Q19.7,-0.59 18.60,0.01" fill="none" stroke="#1b1e23" stroke-width="1.4" stroke-linejoin="round"/><line x1="0" y1="-0.3" x2="0" y2="9.75" stroke="#1b1e23" stroke-width="1.4"/></g>
<g transform="translate(350.93,231.12)"><path d="M-10.3,-3.0 Q-10.3,-4.6 -8.3,-4.6 L-6.1,-3.9 L0,-3.45 L0,9.75 L-6.1,7.9 L-8.3,7.1 L-10.3,5.1 Z" fill="#fff"/><path d="M-10.0,-3.0 L-10.0,5.0 L-8.3,6.9 L-6.1,7.7" fill="none" stroke="#1b1e23" stroke-width="1.45" stroke-linejoin="round"/><line x1="-6.0" y1="-0.3" x2="-6.0" y2="7.9" stroke="#1b1e23" stroke-width="1.15"/><line x1="-2.2" y1="0.6" x2="-2.2" y2="9.6" stroke="#7a8088" stroke-width="1.2"/><path d="M-10.0,-2.9 Q-10.0,-4.4 -8.3,-4.45 L-6.1,-3.8 L-0.6,-2.0 L0,-3.45" fill="none" stroke="#1b1e23" stroke-width="1.45" stroke-linejoin="round"/><path d="M-10.0,-2.5 L-6.1,-0.3 L-1.9,0.7 L0,-0.1" fill="none" stroke="#1b1e23" stroke-width="1.35" stroke-linejoin="round"/><path d="M0,-3.45 L19.7,-13.79 L19.7,-0.59 L0,9.75 Z" fill="#fff"/><path d="M0,-3.45 L19.10,-13.59 Q19.7,-13.39 19.7,-12.59 L19.7,-10.34 L0,0 Z" fill="#1b1e23"/><rect x="1.50" y="-4.50" width="2.8" height="1.8" rx="0.7" fill="#fff" transform="rotate(-27 2.90 -3.55)"/><rect x="8.70" y="-8.07" width="2.0" height="1.8" rx="0.7" fill="#fff" transform="rotate(-27 9.70 -7.12)"/><rect x="12.50" y="-10.06" width="2.0" height="1.8" rx="0.7" fill="#fff" transform="rotate(-27 13.50 -9.11)"/><rect x="16.30" y="-12.06" width="2.0" height="1.8" rx="0.7" fill="#fff" transform="rotate(-27 17.30 -11.11)"/><path d="M0,0 L19.7,-10.34 L19.7,-1.79 Q19.7,-0.59 18.60,0.01" fill="none" stroke="#1b1e23" stroke-width="1.4" stroke-linejoin="round"/><line x1="0" y1="-0.3" x2="0" y2="9.75" stroke="#1b1e23" stroke-width="1.4"/></g>
<g transform="translate(350.93,244.30)"><path d="M-10.3,-3.0 Q-10.3,-4.6 -8.3,-4.6 L-6.1,-3.9 L0,-3.45 L0,9.75 L-6.1,7.9 L-8.3,7.1 L-10.3,5.1 Z" fill="#fff"/><path d="M-10.0,-3.0 L-10.0,5.0 L-8.3,6.9 L-6.1,7.7" fill="none" stroke="#1b1e23" stroke-width="1.45" stroke-linejoin="round"/><line x1="-6.0" y1="-0.3" x2="-6.0" y2="7.9" stroke="#1b1e23" stroke-width="1.15"/><line x1="-2.2" y1="0.6" x2="-2.2" y2="9.6" stroke="#7a8088" stroke-width="1.2"/><path d="M-10.0,-2.9 Q-10.0,-4.4 -8.3,-4.45 L-6.1,-3.8 L-0.6,-2.0 L0,-3.45" fill="none" stroke="#1b1e23" stroke-width="1.45" stroke-linejoin="round"/><path d="M-10.0,-2.5 L-6.1,-0.3 L-1.9,0.7 L0,-0.1" fill="none" stroke="#1b1e23" stroke-width="1.35" stroke-linejoin="round"/><path d="M0,-3.45 L19.7,-13.79 L19.7,-0.59 L0,9.75 Z" fill="#fff"/><path d="M0,-3.45 L19.10,-13.59 Q19.7,-13.39 19.7,-12.59 L19.7,-10.34 L0,0 Z" fill="#1b1e23"/><rect x="1.50" y="-4.50" width="2.8" height="1.8" rx="0.7" fill="#fff" transform="rotate(-27 2.90 -3.55)"/><rect x="8.70" y="-8.07" width="2.0" height="1.8" rx="0.7" fill="#fff" transform="rotate(-27 9.70 -7.12)"/><rect x="12.50" y="-10.06" width="2.0" height="1.8" rx="0.7" fill="#fff" transform="rotate(-27 13.50 -9.11)"/><rect x="16.30" y="-12.06" width="2.0" height="1.8" rx="0.7" fill="#fff" transform="rotate(-27 17.30 -11.11)"/><path d="M0,0 L19.7,-10.34 L19.7,-1.79 Q19.7,-0.59 18.60,0.01" fill="none" stroke="#1b1e23" stroke-width="1.4" stroke-linejoin="round"/><line x1="0" y1="-0.3" x2="0" y2="9.75" stroke="#1b1e23" stroke-width="1.4"/></g>
<g transform="translate(350.93,257.48)"><path d="M-10.3,-3.0 Q-10.3,-4.6 -8.3,-4.6 L-6.1,-3.9 L0,-3.45 L0,9.75 L-6.1,7.9 L-8.3,7.1 L-10.3,5.1 Z" fill="#fff"/><path d="M-10.0,-3.0 L-10.0,5.0 L-8.3,6.9 L-6.1,7.7" fill="none" stroke="#1b1e23" stroke-width="1.45" stroke-linejoin="round"/><line x1="-6.0" y1="-0.3" x2="-6.0" y2="7.9" stroke="#1b1e23" stroke-width="1.15"/><line x1="-2.2" y1="0.6" x2="-2.2" y2="9.6" stroke="#7a8088" stroke-width="1.2"/><path d="M-10.0,-2.9 Q-10.0,-4.4 -8.3,-4.45 L-6.1,-3.8 L-0.6,-2.0 L0,-3.45" fill="none" stroke="#1b1e23" stroke-width="1.45" stroke-linejoin="round"/><path d="M-10.0,-2.5 L-6.1,-0.3 L-1.9,0.7 L0,-0.1" fill="none" stroke="#1b1e23" stroke-width="1.35" stroke-linejoin="round"/><path d="M0,-3.45 L19.7,-13.79 L19.7,-0.59 L0,9.75 Z" fill="#fff"/><path d="M0,-3.45 L19.10,-13.59 Q19.7,-13.39 19.7,-12.59 L19.7,-10.34 L0,0 Z" fill="#1b1e23"/><rect x="1.50" y="-4.50" width="2.8" height="1.8" rx="0.7" fill="#fff" transform="rotate(-27 2.90 -3.55)"/><rect x="8.70" y="-8.07" width="2.0" height="1.8" rx="0.7" fill="#fff" transform="rotate(-27 9.70 -7.12)"/><rect x="12.50" y="-10.06" width="2.0" height="1.8" rx="0.7" fill="#fff" transform="rotate(-27 13.50 -9.11)"/><rect x="16.30" y="-12.06" width="2.0" height="1.8" rx="0.7" fill="#fff" transform="rotate(-27 17.30 -11.11)"/><path d="M0,0 L19.7,-10.34 L19.7,-1.79 Q19.7,-0.59 18.60,0.01" fill="none" stroke="#1b1e23" stroke-width="1.4" stroke-linejoin="round"/><line x1="0" y1="-0.3" x2="0" y2="9.75" stroke="#1b1e23" stroke-width="1.4"/></g>
<g transform="translate(350.93,270.66)"><path d="M-10.3,-3.0 Q-10.3,-4.6 -8.3,-4.6 L-6.1,-3.9 L0,-3.45 L0,9.75 L-6.1,7.9 L-8.3,7.1 L-10.3,5.1 Z" fill="#fff"/><path d="M-10.0,-3.0 L-10.0,5.0 L-8.3,6.9 L-6.1,7.7" fill="none" stroke="#1b1e23" stroke-width="1.45" stroke-linejoin="round"/><line x1="-6.0" y1="-0.3" x2="-6.0" y2="7.9" stroke="#1b1e23" stroke-width="1.15"/><line x1="-2.2" y1="0.6" x2="-2.2" y2="9.6" stroke="#7a8088" stroke-width="1.2"/><path d="M-10.0,-2.9 Q-10.0,-4.4 -8.3,-4.45 L-6.1,-3.8 L-0.6,-2.0 L0,-3.45" fill="none" stroke="#1b1e23" stroke-width="1.45" stroke-linejoin="round"/><path d="M-10.0,-2.5 L-6.1,-0.3 L-1.9,0.7 L0,-0.1" fill="none" stroke="#1b1e23" stroke-width="1.35" stroke-linejoin="round"/><path d="M0,-3.45 L19.7,-13.79 L19.7,-0.59 L0,9.75 Z" fill="#fff"/><path d="M0,-3.45 L19.10,-13.59 Q19.7,-13.39 19.7,-12.59 L19.7,-10.34 L0,0 Z" fill="#1b1e23"/><rect x="1.50" y="-4.50" width="2.8" height="1.8" rx="0.7" fill="#fff" transform="rotate(-27 2.90 -3.55)"/><rect x="8.70" y="-8.07" width="2.0" height="1.8" rx="0.7" fill="#fff" transform="rotate(-27 9.70 -7.12)"/><rect x="12.50" y="-10.06" width="2.0" height="1.8" rx="0.7" fill="#fff" transform="rotate(-27 13.50 -9.11)"/><rect x="16.30" y="-12.06" width="2.0" height="1.8" rx="0.7" fill="#fff" transform="rotate(-27 17.30 -11.11)"/><path d="M0,0 L19.7,-10.34 L19.7,-1.79 Q19.7,-0.59 18.60,0.01" fill="none" stroke="#1b1e23" stroke-width="1.4" stroke-linejoin="round"/><line x1="0" y1="-0.3" x2="0" y2="9.75" stroke="#1b1e23" stroke-width="1.4"/></g>
<g transform="translate(350.93,283.84)"><path d="M-10.3,-3.0 Q-10.3,-4.6 -8.3,-4.6 L-6.1,-3.9 L0,-3.45 L0,9.75 L-6.1,7.9 L-8.3,7.1 L-10.3,5.1 Z" fill="#fff"/><path d="M-10.0,-3.0 L-10.0,5.0 L-8.3,6.9 L-6.1,7.7" fill="none" stroke="#1b1e23" stroke-width="1.45" stroke-linejoin="round"/><line x1="-6.0" y1="-0.3" x2="-6.0" y2="7.9" stroke="#1b1e23" stroke-width="1.15"/><line x1="-2.2" y1="0.6" x2="-2.2" y2="9.6" stroke="#7a8088" stroke-width="1.2"/><path d="M-10.0,-2.9 Q-10.0,-4.4 -8.3,-4.45 L-6.1,-3.8 L-0.6,-2.0 L0,-3.45" fill="none" stroke="#1b1e23" stroke-width="1.45" stroke-linejoin="round"/><path d="M-10.0,-2.5 L-6.1,-0.3 L-1.9,0.7 L0,-0.1" fill="none" stroke="#1b1e23" stroke-width="1.35" stroke-linejoin="round"/><path d="M0,-3.45 L19.7,-13.79 L19.7,-0.59 L0,9.75 Z" fill="#fff"/><path d="M0,-3.45 L19.10,-13.59 Q19.7,-13.39 19.7,-12.59 L19.7,-10.34 L0,0 Z" fill="#1b1e23"/><rect x="1.50" y="-4.50" width="2.8" height="1.8" rx="0.7" fill="#fff" transform="rotate(-27 2.90 -3.55)"/><rect x="8.70" y="-8.07" width="2.0" height="1.8" rx="0.7" fill="#fff" transform="rotate(-27 9.70 -7.12)"/><rect x="12.50" y="-10.06" width="2.0" height="1.8" rx="0.7" fill="#fff" transform="rotate(-27 13.50 -9.11)"/><rect x="16.30" y="-12.06" width="2.0" height="1.8" rx="0.7" fill="#fff" transform="rotate(-27 17.30 -11.11)"/><path d="M0,0 L19.7,-10.34 L19.7,-1.79 Q19.7,-0.59 18.60,0.01" fill="none" stroke="#1b1e23" stroke-width="1.4" stroke-linejoin="round"/><line x1="0" y1="-0.3" x2="0" y2="9.75" stroke="#1b1e23" stroke-width="1.4"/></g>
<g transform="translate(350.93,297.02)"><path d="M-10.3,-3.0 Q-10.3,-4.6 -8.3,-4.6 L-6.1,-3.9 L0,-3.45 L0,9.75 L-6.1,7.9 L-8.3,7.1 L-10.3,5.1 Z" fill="#fff"/><path d="M-10.0,-3.0 L-10.0,5.0 L-8.3,6.9 L-6.1,7.7" fill="none" stroke="#1b1e23" stroke-width="1.45" stroke-linejoin="round"/><line x1="-6.0" y1="-0.3" x2="-6.0" y2="7.9" stroke="#1b1e23" stroke-width="1.15"/><line x1="-2.2" y1="0.6" x2="-2.2" y2="9.6" stroke="#7a8088" stroke-width="1.2"/><path d="M-10.0,-2.9 Q-10.0,-4.4 -8.3,-4.45 L-6.1,-3.8 L-0.6,-2.0 L0,-3.45" fill="none" stroke="#1b1e23" stroke-width="1.45" stroke-linejoin="round"/><path d="M-10.0,-2.5 L-6.1,-0.3 L-1.9,0.7 L0,-0.1" fill="none" stroke="#1b1e23" stroke-width="1.35" stroke-linejoin="round"/><path d="M0,-3.45 L19.7,-13.79 L19.7,-0.59 L0,9.75 Z" fill="#fff"/><path d="M0,-3.45 L19.10,-13.59 Q19.7,-13.39 19.7,-12.59 L19.7,-10.34 L0,0 Z" fill="#1b1e23"/><rect x="1.50" y="-4.50" width="2.8" height="1.8" rx="0.7" fill="#fff" transform="rotate(-27 2.90 -3.55)"/><rect x="8.70" y="-8.07" width="2.0" height="1.8" rx="0.7" fill="#fff" transform="rotate(-27 9.70 -7.12)"/><rect x="12.50" y="-10.06" width="2.0" height="1.8" rx="0.7" fill="#fff" transform="rotate(-27 13.50 -9.11)"/><rect x="16.30" y="-12.06" width="2.0" height="1.8" rx="0.7" fill="#fff" transform="rotate(-27 17.30 -11.11)"/><path d="M0,0 L19.7,-10.34 L19.7,-1.79 Q19.7,-0.59 18.60,0.01" fill="none" stroke="#1b1e23" stroke-width="1.4" stroke-linejoin="round"/><line x1="0" y1="-0.3" x2="0" y2="9.75" stroke="#1b1e23" stroke-width="1.4"/></g>
<g transform="translate(350.93,310.20)"><path d="M-10.3,-3.0 Q-10.3,-4.6 -8.3,-4.6 L-6.1,-3.9 L0,-3.45 L0,9.75 L-6.1,7.9 L-8.3,7.1 L-10.3,5.1 Z" fill="#fff"/><path d="M-10.0,-3.0 L-10.0,5.0 L-8.3,6.9 L-6.1,7.7" fill="none" stroke="#1b1e23" stroke-width="1.45" stroke-linejoin="round"/><line x1="-6.0" y1="-0.3" x2="-6.0" y2="7.9" stroke="#1b1e23" stroke-width="1.15"/><line x1="-2.2" y1="0.6" x2="-2.2" y2="9.6" stroke="#7a8088" stroke-width="1.2"/><path d="M-10.0,-2.9 Q-10.0,-4.4 -8.3,-4.45 L-6.1,-3.8 L-0.6,-2.0 L0,-3.45" fill="none" stroke="#1b1e23" stroke-width="1.45" stroke-linejoin="round"/><path d="M-10.0,-2.5 L-6.1,-0.3 L-1.9,0.7 L0,-0.1" fill="none" stroke="#1b1e23" stroke-width="1.35" stroke-linejoin="round"/><path d="M0,-3.45 L19.7,-13.79 L19.7,-0.59 L0,9.75 Z" fill="#fff"/><path d="M0,-3.45 L19.10,-13.59 Q19.7,-13.39 19.7,-12.59 L19.7,-10.34 L0,0 Z" fill="#1b1e23"/><rect x="1.50" y="-4.50" width="2.8" height="1.8" rx="0.7" fill="#fff" transform="rotate(-27 2.90 -3.55)"/><rect x="8.70" y="-8.07" width="2.0" height="1.8" rx="0.7" fill="#fff" transform="rotate(-27 9.70 -7.12)"/><rect x="12.50" y="-10.06" width="2.0" height="1.8" rx="0.7" fill="#fff" transform="rotate(-27 13.50 -9.11)"/><rect x="16.30" y="-12.06" width="2.0" height="1.8" rx="0.7" fill="#fff" transform="rotate(-27 17.30 -11.11)"/><path d="M0,0 L19.7,-10.34 L19.7,-1.79 Q19.7,-0.59 18.60,0.01" fill="none" stroke="#1b1e23" stroke-width="1.4" stroke-linejoin="round"/><line x1="0" y1="-0.3" x2="0" y2="9.75" stroke="#1b1e23" stroke-width="1.4"/></g>
<g transform="translate(350.93,323.38)"><path d="M-10.3,-3.0 Q-10.3,-4.6 -8.3,-4.6 L-6.1,-3.9 L0,-3.45 L0,9.75 L-6.1,7.9 L-8.3,7.1 L-10.3,5.1 Z" fill="#fff"/><path d="M-10.0,-3.0 L-10.0,5.0 L-8.3,6.9 L-6.1,7.7" fill="none" stroke="#1b1e23" stroke-width="1.45" stroke-linejoin="round"/><line x1="-6.0" y1="-0.3" x2="-6.0" y2="7.9" stroke="#1b1e23" stroke-width="1.15"/><line x1="-2.2" y1="0.6" x2="-2.2" y2="9.6" stroke="#7a8088" stroke-width="1.2"/><path d="M-10.0,-2.9 Q-10.0,-4.4 -8.3,-4.45 L-6.1,-3.8 L-0.6,-2.0 L0,-3.45" fill="none" stroke="#1b1e23" stroke-width="1.45" stroke-linejoin="round"/><path d="M-10.0,-2.5 L-6.1,-0.3 L-1.9,0.7 L0,-0.1" fill="none" stroke="#1b1e23" stroke-width="1.35" stroke-linejoin="round"/><path d="M0,-3.45 L19.7,-13.79 L19.7,-0.59 L0,9.75 Z" fill="#fff"/><path d="M0,-3.45 L19.10,-13.59 Q19.7,-13.39 19.7,-12.59 L19.7,-10.34 L0,0 Z" fill="#1b1e23"/><rect x="1.50" y="-4.50" width="2.8" height="1.8" rx="0.7" fill="#fff" transform="rotate(-27 2.90 -3.55)"/><rect x="8.70" y="-8.07" width="2.0" height="1.8" rx="0.7" fill="#fff" transform="rotate(-27 9.70 -7.12)"/><rect x="12.50" y="-10.06" width="2.0" height="1.8" rx="0.7" fill="#fff" transform="rotate(-27 13.50 -9.11)"/><rect x="16.30" y="-12.06" width="2.0" height="1.8" rx="0.7" fill="#fff" transform="rotate(-27 17.30 -11.11)"/><path d="M0,0 L19.7,-10.34 L19.7,-1.79 Q19.7,-0.59 18.60,0.01" fill="none" stroke="#1b1e23" stroke-width="1.4" stroke-linejoin="round"/><line x1="0" y1="-0.3" x2="0" y2="9.75" stroke="#1b1e23" stroke-width="1.4"/></g>
<g transform="translate(350.93,336.56)"><path d="M-10.3,-3.0 Q-10.3,-4.6 -8.3,-4.6 L-6.1,-3.9 L0,-3.45 L0,9.75 L-6.1,7.9 L-8.3,7.1 L-10.3,5.1 Z" fill="#fff"/><path d="M-10.0,-3.0 L-10.0,5.0 L-8.3,6.9 L-6.1,7.7" fill="none" stroke="#1b1e23" stroke-width="1.45" stroke-linejoin="round"/><line x1="-6.0" y1="-0.3" x2="-6.0" y2="7.9" stroke="#1b1e23" stroke-width="1.15"/><line x1="-2.2" y1="0.6" x2="-2.2" y2="9.6" stroke="#7a8088" stroke-width="1.2"/><path d="M-10.0,-2.9 Q-10.0,-4.4 -8.3,-4.45 L-6.1,-3.8 L-0.6,-2.0 L0,-3.45" fill="none" stroke="#1b1e23" stroke-width="1.45" stroke-linejoin="round"/><path d="M-10.0,-2.5 L-6.1,-0.3 L-1.9,0.7 L0,-0.1" fill="none" stroke="#1b1e23" stroke-width="1.35" stroke-linejoin="round"/><path d="M0,-3.45 L19.7,-13.79 L19.7,-0.59 L0,9.75 Z" fill="#fff"/><path d="M0,-3.45 L19.10,-13.59 Q19.7,-13.39 19.7,-12.59 L19.7,-10.34 L0,0 Z" fill="#1b1e23"/><rect x="1.50" y="-4.50" width="2.8" height="1.8" rx="0.7" fill="#fff" transform="rotate(-27 2.90 -3.55)"/><rect x="8.70" y="-8.07" width="2.0" height="1.8" rx="0.7" fill="#fff" transform="rotate(-27 9.70 -7.12)"/><rect x="12.50" y="-10.06" width="2.0" height="1.8" rx="0.7" fill="#fff" transform="rotate(-27 13.50 -9.11)"/><rect x="16.30" y="-12.06" width="2.0" height="1.8" rx="0.7" fill="#fff" transform="rotate(-27 17.30 -11.11)"/><path d="M0,0 L19.7,-10.34 L19.7,-1.79 Q19.7,-0.59 18.60,0.01" fill="none" stroke="#1b1e23" stroke-width="1.4" stroke-linejoin="round"/><line x1="0" y1="-0.3" x2="0" y2="9.75" stroke="#1b1e23" stroke-width="1.4"/></g>
<g transform="translate(350.93,349.74)"><path d="M-10.3,-3.0 Q-10.3,-4.6 -8.3,-4.6 L-6.1,-3.9 L0,-3.45 L0,9.75 L-6.1,7.9 L-8.3,7.1 L-10.3,5.1 Z" fill="#fff"/><path d="M-10.0,-3.0 L-10.0,5.0 L-8.3,6.9 L-6.1,7.7" fill="none" stroke="#1b1e23" stroke-width="1.45" stroke-linejoin="round"/><line x1="-6.0" y1="-0.3" x2="-6.0" y2="7.9" stroke="#1b1e23" stroke-width="1.15"/><line x1="-2.2" y1="0.6" x2="-2.2" y2="9.6" stroke="#7a8088" stroke-width="1.2"/><path d="M-10.0,-2.9 Q-10.0,-4.4 -8.3,-4.45 L-6.1,-3.8 L-0.6,-2.0 L0,-3.45" fill="none" stroke="#1b1e23" stroke-width="1.45" stroke-linejoin="round"/><path d="M-10.0,-2.5 L-6.1,-0.3 L-1.9,0.7 L0,-0.1" fill="none" stroke="#1b1e23" stroke-width="1.35" stroke-linejoin="round"/><path d="M0,-3.45 L19.7,-13.79 L19.7,-0.59 L0,9.75 Z" fill="#fff"/><path d="M0,-3.45 L19.10,-13.59 Q19.7,-13.39 19.7,-12.59 L19.7,-10.34 L0,0 Z" fill="#1b1e23"/><rect x="1.50" y="-4.50" width="2.8" height="1.8" rx="0.7" fill="#fff" transform="rotate(-27 2.90 -3.55)"/><rect x="8.70" y="-8.07" width="2.0" height="1.8" rx="0.7" fill="#fff" transform="rotate(-27 9.70 -7.12)"/><rect x="12.50" y="-10.06" width="2.0" height="1.8" rx="0.7" fill="#fff" transform="rotate(-27 13.50 -9.11)"/><rect x="16.30" y="-12.06" width="2.0" height="1.8" rx="0.7" fill="#fff" transform="rotate(-27 17.30 -11.11)"/><path d="M0,0 L19.7,-10.34 L19.7,-1.79 Q19.7,-0.59 18.60,0.01" fill="none" stroke="#1b1e23" stroke-width="1.4" stroke-linejoin="round"/><line x1="0" y1="-0.3" x2="0" y2="9.75" stroke="#1b1e23" stroke-width="1.4"/></g>
<g transform="translate(350.93,362.92)"><path d="M-10.3,-3.0 Q-10.3,-4.6 -8.3,-4.6 L-6.1,-3.9 L0,-3.45 L0,9.75 L-6.1,7.9 L-8.3,7.1 L-10.3,5.1 Z" fill="#fff"/><path d="M-10.0,-3.0 L-10.0,5.0 L-8.3,6.9 L-6.1,7.7" fill="none" stroke="#1b1e23" stroke-width="1.45" stroke-linejoin="round"/><line x1="-6.0" y1="-0.3" x2="-6.0" y2="7.9" stroke="#1b1e23" stroke-width="1.15"/><line x1="-2.2" y1="0.6" x2="-2.2" y2="9.6" stroke="#7a8088" stroke-width="1.2"/><path d="M-10.0,-2.9 Q-10.0,-4.4 -8.3,-4.45 L-6.1,-3.8 L-0.6,-2.0 L0,-3.45" fill="none" stroke="#1b1e23" stroke-width="1.45" stroke-linejoin="round"/><path d="M-10.0,-2.5 L-6.1,-0.3 L-1.9,0.7 L0,-0.1" fill="none" stroke="#1b1e23" stroke-width="1.35" stroke-linejoin="round"/><path d="M0,-3.45 L19.7,-13.79 L19.7,-0.59 L0,9.75 Z" fill="#fff"/><path d="M0,-3.45 L19.10,-13.59 Q19.7,-13.39 19.7,-12.59 L19.7,-10.34 L0,0 Z" fill="#1b1e23"/><rect x="1.50" y="-4.50" width="2.8" height="1.8" rx="0.7" fill="#fff" transform="rotate(-27 2.90 -3.55)"/><rect x="8.70" y="-8.07" width="2.0" height="1.8" rx="0.7" fill="#fff" transform="rotate(-27 9.70 -7.12)"/><rect x="12.50" y="-10.06" width="2.0" height="1.8" rx="0.7" fill="#fff" transform="rotate(-27 13.50 -9.11)"/><rect x="16.30" y="-12.06" width="2.0" height="1.8" rx="0.7" fill="#fff" transform="rotate(-27 17.30 -11.11)"/><path d="M0,0 L19.7,-10.34 L19.7,-1.79 Q19.7,-0.59 18.60,0.01" fill="none" stroke="#1b1e23" stroke-width="1.4" stroke-linejoin="round"/><line x1="0" y1="-0.3" x2="0" y2="9.75" stroke="#1b1e23" stroke-width="1.4"/></g>
<g transform="translate(350.93,376.10)"><path d="M-10.3,-3.0 Q-10.3,-4.6 -8.3,-4.6 L-6.1,-3.9 L0,-3.45 L0,9.75 L-6.1,7.9 L-8.3,7.1 L-10.3,5.1 Z" fill="#fff"/><path d="M-10.0,-3.0 L-10.0,5.0 L-8.3,6.9 L-6.1,7.7" fill="none" stroke="#1b1e23" stroke-width="1.45" stroke-linejoin="round"/><line x1="-6.0" y1="-0.3" x2="-6.0" y2="7.9" stroke="#1b1e23" stroke-width="1.15"/><line x1="-2.2" y1="0.6" x2="-2.2" y2="9.6" stroke="#7a8088" stroke-width="1.2"/><path d="M-10.0,-2.9 Q-10.0,-4.4 -8.3,-4.45 L-6.1,-3.8 L-0.6,-2.0 L0,-3.45" fill="none" stroke="#1b1e23" stroke-width="1.45" stroke-linejoin="round"/><path d="M-10.0,-2.5 L-6.1,-0.3 L-1.9,0.7 L0,-0.1" fill="none" stroke="#1b1e23" stroke-width="1.35" stroke-linejoin="round"/><path d="M0,-3.45 L19.7,-13.79 L19.7,-0.59 L0,9.75 Z" fill="#fff"/><path d="M0,-3.45 L19.10,-13.59 Q19.7,-13.39 19.7,-12.59 L19.7,-10.34 L0,0 Z" fill="#1b1e23"/><rect x="1.50" y="-4.50" width="2.8" height="1.8" rx="0.7" fill="#fff" transform="rotate(-27 2.90 -3.55)"/><rect x="8.70" y="-8.07" width="2.0" height="1.8" rx="0.7" fill="#fff" transform="rotate(-27 9.70 -7.12)"/><rect x="12.50" y="-10.06" width="2.0" height="1.8" rx="0.7" fill="#fff" transform="rotate(-27 13.50 -9.11)"/><rect x="16.30" y="-12.06" width="2.0" height="1.8" rx="0.7" fill="#fff" transform="rotate(-27 17.30 -11.11)"/><path d="M0,0 L19.7,-10.34 L19.7,-1.79 Q19.7,-0.59 18.60,0.01" fill="none" stroke="#1b1e23" stroke-width="1.4" stroke-linejoin="round"/><line x1="0" y1="-0.3" x2="0" y2="9.75" stroke="#1b1e23" stroke-width="1.4"/></g>
<g transform="translate(350.93,389.28)"><path d="M-10.3,-3.0 Q-10.3,-4.6 -8.3,-4.6 L-6.1,-3.9 L0,-3.45 L0,9.75 L-6.1,7.9 L-8.3,7.1 L-10.3,5.1 Z" fill="#fff"/><path d="M-10.0,-3.0 L-10.0,5.0 L-8.3,6.9 L-6.1,7.7" fill="none" stroke="#1b1e23" stroke-width="1.45" stroke-linejoin="round"/><line x1="-6.0" y1="-0.3" x2="-6.0" y2="7.9" stroke="#1b1e23" stroke-width="1.15"/><line x1="-2.2" y1="0.6" x2="-2.2" y2="9.6" stroke="#7a8088" stroke-width="1.2"/><path d="M-10.0,-2.9 Q-10.0,-4.4 -8.3,-4.45 L-6.1,-3.8 L-0.6,-2.0 L0,-3.45" fill="none" stroke="#1b1e23" stroke-width="1.45" stroke-linejoin="round"/><path d="M-10.0,-2.5 L-6.1,-0.3 L-1.9,0.7 L0,-0.1" fill="none" stroke="#1b1e23" stroke-width="1.35" stroke-linejoin="round"/><path d="M0,-3.45 L19.7,-13.79 L19.7,-0.59 L0,9.75 Z" fill="#fff"/><path d="M0,-3.45 L19.10,-13.59 Q19.7,-13.39 19.7,-12.59 L19.7,-10.34 L0,0 Z" fill="#1b1e23"/><rect x="1.50" y="-4.50" width="2.8" height="1.8" rx="0.7" fill="#fff" transform="rotate(-27 2.90 -3.55)"/><rect x="8.70" y="-8.07" width="2.0" height="1.8" rx="0.7" fill="#fff" transform="rotate(-27 9.70 -7.12)"/><rect x="12.50" y="-10.06" width="2.0" height="1.8" rx="0.7" fill="#fff" transform="rotate(-27 13.50 -9.11)"/><rect x="16.30" y="-12.06" width="2.0" height="1.8" rx="0.7" fill="#fff" transform="rotate(-27 17.30 -11.11)"/><path d="M0,0 L19.7,-10.34 L19.7,-1.79 Q19.7,-0.59 18.60,0.01" fill="none" stroke="#1b1e23" stroke-width="1.4" stroke-linejoin="round"/><line x1="0" y1="-0.3" x2="0" y2="9.75" stroke="#1b1e23" stroke-width="1.4"/></g>
<g transform="translate(350.93,402.46)"><path d="M-10.3,-3.0 Q-10.3,-4.6 -8.3,-4.6 L-6.1,-3.9 L0,-3.45 L0,9.75 L-6.1,7.9 L-8.3,7.1 L-10.3,5.1 Z" fill="#fff"/><path d="M-10.0,-3.0 L-10.0,5.0 L-8.3,6.9 L-6.1,7.7" fill="none" stroke="#1b1e23" stroke-width="1.45" stroke-linejoin="round"/><line x1="-6.0" y1="-0.3" x2="-6.0" y2="7.9" stroke="#1b1e23" stroke-width="1.15"/><line x1="-2.2" y1="0.6" x2="-2.2" y2="9.6" stroke="#7a8088" stroke-width="1.2"/><path d="M-10.0,-2.9 Q-10.0,-4.4 -8.3,-4.45 L-6.1,-3.8 L-0.6,-2.0 L0,-3.45" fill="none" stroke="#1b1e23" stroke-width="1.45" stroke-linejoin="round"/><path d="M-10.0,-2.5 L-6.1,-0.3 L-1.9,0.7 L0,-0.1" fill="none" stroke="#1b1e23" stroke-width="1.35" stroke-linejoin="round"/><path d="M0,-3.45 L19.7,-13.79 L19.7,-0.59 L0,9.75 Z" fill="#fff"/><path d="M0,-3.45 L19.10,-13.59 Q19.7,-13.39 19.7,-12.59 L19.7,-10.34 L0,0 Z" fill="#1b1e23"/><rect x="1.50" y="-4.50" width="2.8" height="1.8" rx="0.7" fill="#fff" transform="rotate(-27 2.90 -3.55)"/><rect x="8.70" y="-8.07" width="2.0" height="1.8" rx="0.7" fill="#fff" transform="rotate(-27 9.70 -7.12)"/><rect x="12.50" y="-10.06" width="2.0" height="1.8" rx="0.7" fill="#fff" transform="rotate(-27 13.50 -9.11)"/><rect x="16.30" y="-12.06" width="2.0" height="1.8" rx="0.7" fill="#fff" transform="rotate(-27 17.30 -11.11)"/><path d="M0,0 L19.7,-10.34 L19.7,-1.79 Q19.7,-0.59 18.60,0.01" fill="none" stroke="#1b1e23" stroke-width="1.4" stroke-linejoin="round"/><line x1="0" y1="-0.3" x2="0" y2="9.75" stroke="#1b1e23" stroke-width="1.4"/></g>
<g transform="translate(350.93,415.64)"><path d="M-10.3,-3.0 Q-10.3,-4.6 -8.3,-4.6 L-6.1,-3.9 L0,-3.45 L0,9.75 L-6.1,7.9 L-8.3,7.1 L-10.3,5.1 Z" fill="#fff"/><path d="M-10.0,-3.0 L-10.0,5.0 L-8.3,6.9 L-6.1,7.7" fill="none" stroke="#1b1e23" stroke-width="1.45" stroke-linejoin="round"/><line x1="-6.0" y1="-0.3" x2="-6.0" y2="7.9" stroke="#1b1e23" stroke-width="1.15"/><line x1="-2.2" y1="0.6" x2="-2.2" y2="9.6" stroke="#7a8088" stroke-width="1.2"/><path d="M-10.0,-2.9 Q-10.0,-4.4 -8.3,-4.45 L-6.1,-3.8 L-0.6,-2.0 L0,-3.45" fill="none" stroke="#1b1e23" stroke-width="1.45" stroke-linejoin="round"/><path d="M-10.0,-2.5 L-6.1,-0.3 L-1.9,0.7 L0,-0.1" fill="none" stroke="#1b1e23" stroke-width="1.35" stroke-linejoin="round"/><path d="M0,-3.45 L19.7,-13.79 L19.7,-0.59 L0,9.75 Z" fill="#fff"/><path d="M0,-3.45 L19.10,-13.59 Q19.7,-13.39 19.7,-12.59 L19.7,-10.34 L0,0 Z" fill="#1b1e23"/><rect x="1.50" y="-4.50" width="2.8" height="1.8" rx="0.7" fill="#fff" transform="rotate(-27 2.90 -3.55)"/><rect x="8.70" y="-8.07" width="2.0" height="1.8" rx="0.7" fill="#fff" transform="rotate(-27 9.70 -7.12)"/><rect x="12.50" y="-10.06" width="2.0" height="1.8" rx="0.7" fill="#fff" transform="rotate(-27 13.50 -9.11)"/><rect x="16.30" y="-12.06" width="2.0" height="1.8" rx="0.7" fill="#fff" transform="rotate(-27 17.30 -11.11)"/><path d="M0,0 L19.7,-10.34 L19.7,-1.79 Q19.7,-0.59 18.60,0.01" fill="none" stroke="#1b1e23" stroke-width="1.4" stroke-linejoin="round"/><line x1="0" y1="-0.3" x2="0" y2="9.75" stroke="#1b1e23" stroke-width="1.4"/></g>
<g transform="translate(350.93,428.82)"><path d="M-10.3,-3.0 Q-10.3,-4.6 -8.3,-4.6 L-6.1,-3.9 L0,-3.45 L0,9.75 L-6.1,7.9 L-8.3,7.1 L-10.3,5.1 Z" fill="#fff"/><path d="M-10.0,-3.0 L-10.0,5.0 L-8.3,6.9 L-6.1,7.7" fill="none" stroke="#1b1e23" stroke-width="1.45" stroke-linejoin="round"/><line x1="-6.0" y1="-0.3" x2="-6.0" y2="7.9" stroke="#1b1e23" stroke-width="1.15"/><line x1="-2.2" y1="0.6" x2="-2.2" y2="9.6" stroke="#7a8088" stroke-width="1.2"/><path d="M-10.0,-2.9 Q-10.0,-4.4 -8.3,-4.45 L-6.1,-3.8 L-0.6,-2.0 L0,-3.45" fill="none" stroke="#1b1e23" stroke-width="1.45" stroke-linejoin="round"/><path d="M-10.0,-2.5 L-6.1,-0.3 L-1.9,0.7 L0,-0.1" fill="none" stroke="#1b1e23" stroke-width="1.35" stroke-linejoin="round"/><path d="M0,-3.45 L19.7,-13.79 L19.7,-0.59 L0,9.75 Z" fill="#fff"/><path d="M0,-3.45 L19.10,-13.59 Q19.7,-13.39 19.7,-12.59 L19.7,-10.34 L0,0 Z" fill="#1b1e23"/><rect x="1.50" y="-4.50" width="2.8" height="1.8" rx="0.7" fill="#fff" transform="rotate(-27 2.90 -3.55)"/><rect x="8.70" y="-8.07" width="2.0" height="1.8" rx="0.7" fill="#fff" transform="rotate(-27 9.70 -7.12)"/><rect x="12.50" y="-10.06" width="2.0" height="1.8" rx="0.7" fill="#fff" transform="rotate(-27 13.50 -9.11)"/><rect x="16.30" y="-12.06" width="2.0" height="1.8" rx="0.7" fill="#fff" transform="rotate(-27 17.30 -11.11)"/><path d="M0,0 L19.7,-10.34 L19.7,-1.79 Q19.7,-0.59 18.60,0.01" fill="none" stroke="#1b1e23" stroke-width="1.4" stroke-linejoin="round"/><line x1="0" y1="-0.3" x2="0" y2="9.75" stroke="#1b1e23" stroke-width="1.4"/></g>
<g transform="translate(350.93,442.00)"><path d="M-10.3,-3.0 Q-10.3,-4.6 -8.3,-4.6 L-6.1,-3.9 L0,-3.45 L0,9.75 L-6.1,7.9 L-8.3,7.1 L-10.3,5.1 Z" fill="#fff"/><path d="M-10.0,-3.0 L-10.0,5.0 L-8.3,6.9 L-6.1,7.7" fill="none" stroke="#1b1e23" stroke-width="1.45" stroke-linejoin="round"/><line x1="-6.0" y1="-0.3" x2="-6.0" y2="7.9" stroke="#1b1e23" stroke-width="1.15"/><line x1="-2.2" y1="0.6" x2="-2.2" y2="9.6" stroke="#7a8088" stroke-width="1.2"/><path d="M-10.0,-2.9 Q-10.0,-4.4 -8.3,-4.45 L-6.1,-3.8 L-0.6,-2.0 L0,-3.45" fill="none" stroke="#1b1e23" stroke-width="1.45" stroke-linejoin="round"/><path d="M-10.0,-2.5 L-6.1,-0.3 L-1.9,0.7 L0,-0.1" fill="none" stroke="#1b1e23" stroke-width="1.35" stroke-linejoin="round"/><path d="M0,-3.45 L19.7,-13.79 L19.7,-0.59 L0,9.75 Z" fill="#fff"/><path d="M0,-3.45 L19.10,-13.59 Q19.7,-13.39 19.7,-12.59 L19.7,-10.34 L0,0 Z" fill="#1b1e23"/><rect x="1.50" y="-4.50" width="2.8" height="1.8" rx="0.7" fill="#fff" transform="rotate(-27 2.90 -3.55)"/><rect x="8.70" y="-8.07" width="2.0" height="1.8" rx="0.7" fill="#fff" transform="rotate(-27 9.70 -7.12)"/><rect x="12.50" y="-10.06" width="2.0" height="1.8" rx="0.7" fill="#fff" transform="rotate(-27 13.50 -9.11)"/><rect x="16.30" y="-12.06" width="2.0" height="1.8" rx="0.7" fill="#fff" transform="rotate(-27 17.30 -11.11)"/><path d="M0,0 L19.7,-10.34 L19.7,-1.79 Q19.7,-0.59 18.60,0.01" fill="none" stroke="#1b1e23" stroke-width="1.4" stroke-linejoin="round"/><line x1="0" y1="-0.3" x2="0" y2="9.75" stroke="#1b1e23" stroke-width="1.4"/></g>
<g transform="translate(350.93,455.18)"><path d="M-10.3,-3.0 Q-10.3,-4.6 -8.3,-4.6 L-6.1,-3.9 L0,-3.45 L0,9.75 L-6.1,7.9 L-8.3,7.1 L-10.3,5.1 Z" fill="#fff"/><path d="M-10.0,-3.0 L-10.0,5.0 L-8.3,6.9 L-6.1,7.7" fill="none" stroke="#1b1e23" stroke-width="1.45" stroke-linejoin="round"/><line x1="-6.0" y1="-0.3" x2="-6.0" y2="7.9" stroke="#1b1e23" stroke-width="1.15"/><line x1="-2.2" y1="0.6" x2="-2.2" y2="9.6" stroke="#7a8088" stroke-width="1.2"/><path d="M-10.0,-2.9 Q-10.0,-4.4 -8.3,-4.45 L-6.1,-3.8 L-0.6,-2.0 L0,-3.45" fill="none" stroke="#1b1e23" stroke-width="1.45" stroke-linejoin="round"/><path d="M-10.0,-2.5 L-6.1,-0.3 L-1.9,0.7 L0,-0.1" fill="none" stroke="#1b1e23" stroke-width="1.35" stroke-linejoin="round"/><path d="M0,-3.45 L19.7,-13.79 L19.7,-0.59 L0,9.75 Z" fill="#fff"/><path d="M0,-3.45 L19.10,-13.59 Q19.7,-13.39 19.7,-12.59 L19.7,-10.34 L0,0 Z" fill="#1b1e23"/><rect x="1.50" y="-4.50" width="2.8" height="1.8" rx="0.7" fill="#fff" transform="rotate(-27 2.90 -3.55)"/><rect x="8.70" y="-8.07" width="2.0" height="1.8" rx="0.7" fill="#fff" transform="rotate(-27 9.70 -7.12)"/><rect x="12.50" y="-10.06" width="2.0" height="1.8" rx="0.7" fill="#fff" transform="rotate(-27 13.50 -9.11)"/><rect x="16.30" y="-12.06" width="2.0" height="1.8" rx="0.7" fill="#fff" transform="rotate(-27 17.30 -11.11)"/><path d="M0,0 L19.7,-10.34 L19.7,-1.79 Q19.7,-0.59 18.60,0.01" fill="none" stroke="#1b1e23" stroke-width="1.4" stroke-linejoin="round"/><line x1="0" y1="-0.3" x2="0" y2="9.75" stroke="#1b1e23" stroke-width="1.4"/></g>
<g transform="translate(350.93,468.36)"><path d="M-10.3,-3.0 Q-10.3,-4.6 -8.3,-4.6 L-6.1,-3.9 L0,-3.45 L0,9.75 L-6.1,7.9 L-8.3,7.1 L-10.3,5.1 Z" fill="#fff"/><path d="M-10.0,-3.0 L-10.0,5.0 L-8.3,6.9 L-6.1,7.7" fill="none" stroke="#1b1e23" stroke-width="1.45" stroke-linejoin="round"/><line x1="-6.0" y1="-0.3" x2="-6.0" y2="7.9" stroke="#1b1e23" stroke-width="1.15"/><line x1="-2.2" y1="0.6" x2="-2.2" y2="9.6" stroke="#7a8088" stroke-width="1.2"/><path d="M-10.0,-2.9 Q-10.0,-4.4 -8.3,-4.45 L-6.1,-3.8 L-0.6,-2.0 L0,-3.45" fill="none" stroke="#1b1e23" stroke-width="1.45" stroke-linejoin="round"/><path d="M-10.0,-2.5 L-6.1,-0.3 L-1.9,0.7 L0,-0.1" fill="none" stroke="#1b1e23" stroke-width="1.35" stroke-linejoin="round"/><path d="M0,-3.45 L19.7,-13.79 L19.7,-0.59 L0,9.75 Z" fill="#fff"/><path d="M0,-3.45 L19.10,-13.59 Q19.7,-13.39 19.7,-12.59 L19.7,-10.34 L0,0 Z" fill="#1b1e23"/><rect x="1.50" y="-4.50" width="2.8" height="1.8" rx="0.7" fill="#fff" transform="rotate(-27 2.90 -3.55)"/><rect x="8.70" y="-8.07" width="2.0" height="1.8" rx="0.7" fill="#fff" transform="rotate(-27 9.70 -7.12)"/><rect x="12.50" y="-10.06" width="2.0" height="1.8" rx="0.7" fill="#fff" transform="rotate(-27 13.50 -9.11)"/><rect x="16.30" y="-12.06" width="2.0" height="1.8" rx="0.7" fill="#fff" transform="rotate(-27 17.30 -11.11)"/><path d="M0,0 L19.7,-10.34 L19.7,-1.79 Q19.7,-0.59 18.60,0.01" fill="none" stroke="#1b1e23" stroke-width="1.4" stroke-linejoin="round"/><line x1="0" y1="-0.3" x2="0" y2="9.75" stroke="#1b1e23" stroke-width="1.4"/></g>
<g transform="translate(350.93,481.54)"><path d="M-10.3,-3.0 Q-10.3,-4.6 -8.3,-4.6 L-6.1,-3.9 L0,-3.45 L0,9.75 L-6.1,7.9 L-8.3,7.1 L-10.3,5.1 Z" fill="#fff"/><path d="M-10.0,-3.0 L-10.0,5.0 L-8.3,6.9 L-6.1,7.7" fill="none" stroke="#1b1e23" stroke-width="1.45" stroke-linejoin="round"/><line x1="-6.0" y1="-0.3" x2="-6.0" y2="7.9" stroke="#1b1e23" stroke-width="1.15"/><line x1="-2.2" y1="0.6" x2="-2.2" y2="9.6" stroke="#7a8088" stroke-width="1.2"/><path d="M-10.0,-2.9 Q-10.0,-4.4 -8.3,-4.45 L-6.1,-3.8 L-0.6,-2.0 L0,-3.45" fill="none" stroke="#1b1e23" stroke-width="1.45" stroke-linejoin="round"/><path d="M-10.0,-2.5 L-6.1,-0.3 L-1.9,0.7 L0,-0.1" fill="none" stroke="#1b1e23" stroke-width="1.35" stroke-linejoin="round"/><path d="M0,-3.45 L19.7,-13.79 L19.7,-0.59 L0,9.75 Z" fill="#fff"/><path d="M0,-3.45 L19.10,-13.59 Q19.7,-13.39 19.7,-12.59 L19.7,-10.34 L0,0 Z" fill="#1b1e23"/><rect x="1.50" y="-4.50" width="2.8" height="1.8" rx="0.7" fill="#fff" transform="rotate(-27 2.90 -3.55)"/><rect x="8.70" y="-8.07" width="2.0" height="1.8" rx="0.7" fill="#fff" transform="rotate(-27 9.70 -7.12)"/><rect x="12.50" y="-10.06" width="2.0" height="1.8" rx="0.7" fill="#fff" transform="rotate(-27 13.50 -9.11)"/><rect x="16.30" y="-12.06" width="2.0" height="1.8" rx="0.7" fill="#fff" transform="rotate(-27 17.30 -11.11)"/><path d="M0,0 L19.7,-10.34 L19.7,-1.79 Q19.7,-0.59 18.60,0.01" fill="none" stroke="#1b1e23" stroke-width="1.4" stroke-linejoin="round"/><line x1="0" y1="-0.3" x2="0" y2="9.75" stroke="#1b1e23" stroke-width="1.4"/></g>
<g transform="translate(350.93,494.72)"><path d="M-10.3,-3.0 Q-10.3,-4.6 -8.3,-4.6 L-6.1,-3.9 L0,-3.45 L0,9.75 L-6.1,7.9 L-8.3,7.1 L-10.3,5.1 Z" fill="#fff"/><path d="M-10.0,-3.0 L-10.0,5.0 L-8.3,6.9 L-6.1,7.7" fill="none" stroke="#1b1e23" stroke-width="1.45" stroke-linejoin="round"/><line x1="-6.0" y1="-0.3" x2="-6.0" y2="7.9" stroke="#1b1e23" stroke-width="1.15"/><line x1="-2.2" y1="0.6" x2="-2.2" y2="9.6" stroke="#7a8088" stroke-width="1.2"/><path d="M-10.0,-2.9 Q-10.0,-4.4 -8.3,-4.45 L-6.1,-3.8 L-0.6,-2.0 L0,-3.45" fill="none" stroke="#1b1e23" stroke-width="1.45" stroke-linejoin="round"/><path d="M-10.0,-2.5 L-6.1,-0.3 L-1.9,0.7 L0,-0.1" fill="none" stroke="#1b1e23" stroke-width="1.35" stroke-linejoin="round"/><path d="M0,-3.45 L19.7,-13.79 L19.7,-0.59 L0,9.75 Z" fill="#fff"/><path d="M0,-3.45 L19.10,-13.59 Q19.7,-13.39 19.7,-12.59 L19.7,-10.34 L0,0 Z" fill="#1b1e23"/><rect x="1.50" y="-4.50" width="2.8" height="1.8" rx="0.7" fill="#fff" transform="rotate(-27 2.90 -3.55)"/><rect x="8.70" y="-8.07" width="2.0" height="1.8" rx="0.7" fill="#fff" transform="rotate(-27 9.70 -7.12)"/><rect x="12.50" y="-10.06" width="2.0" height="1.8" rx="0.7" fill="#fff" transform="rotate(-27 13.50 -9.11)"/><rect x="16.30" y="-12.06" width="2.0" height="1.8" rx="0.7" fill="#fff" transform="rotate(-27 17.30 -11.11)"/><path d="M0,0 L19.7,-10.34 L19.7,-1.79 Q19.7,-0.59 18.60,0.01" fill="none" stroke="#1b1e23" stroke-width="1.4" stroke-linejoin="round"/><line x1="0" y1="-0.3" x2="0" y2="9.75" stroke="#1b1e23" stroke-width="1.4"/></g>
<g transform="translate(350.93,507.90)"><path d="M-10.3,-3.0 Q-10.3,-4.6 -8.3,-4.6 L-6.1,-3.9 L0,-3.45 L0,9.75 L-6.1,7.9 L-8.3,7.1 L-10.3,5.1 Z" fill="#fff"/><path d="M-10.0,-3.0 L-10.0,5.0 L-8.3,6.9 L-6.1,7.7" fill="none" stroke="#1b1e23" stroke-width="1.45" stroke-linejoin="round"/><line x1="-6.0" y1="-0.3" x2="-6.0" y2="7.9" stroke="#1b1e23" stroke-width="1.15"/><line x1="-2.2" y1="0.6" x2="-2.2" y2="9.6" stroke="#7a8088" stroke-width="1.2"/><path d="M-10.0,-2.9 Q-10.0,-4.4 -8.3,-4.45 L-6.1,-3.8 L-0.6,-2.0 L0,-3.45" fill="none" stroke="#1b1e23" stroke-width="1.45" stroke-linejoin="round"/><path d="M-10.0,-2.5 L-6.1,-0.3 L-1.9,0.7 L0,-0.1" fill="none" stroke="#1b1e23" stroke-width="1.35" stroke-linejoin="round"/><path d="M0,-3.45 L19.7,-13.79 L19.7,-0.59 L0,9.75 Z" fill="#fff"/><path d="M0,-3.45 L19.10,-13.59 Q19.7,-13.39 19.7,-12.59 L19.7,-10.34 L0,0 Z" fill="#1b1e23"/><rect x="1.50" y="-4.50" width="2.8" height="1.8" rx="0.7" fill="#fff" transform="rotate(-27 2.90 -3.55)"/><rect x="8.70" y="-8.07" width="2.0" height="1.8" rx="0.7" fill="#fff" transform="rotate(-27 9.70 -7.12)"/><rect x="12.50" y="-10.06" width="2.0" height="1.8" rx="0.7" fill="#fff" transform="rotate(-27 13.50 -9.11)"/><rect x="16.30" y="-12.06" width="2.0" height="1.8" rx="0.7" fill="#fff" transform="rotate(-27 17.30 -11.11)"/><path d="M0,0 L19.7,-10.34 L19.7,-1.79 Q19.7,-0.59 18.60,0.01" fill="none" stroke="#1b1e23" stroke-width="1.4" stroke-linejoin="round"/><line x1="0" y1="-0.3" x2="0" y2="9.75" stroke="#1b1e23" stroke-width="1.4"/></g>
<g transform="translate(350.93,521.08)"><path d="M-10.3,-3.0 Q-10.3,-4.6 -8.3,-4.6 L-6.1,-3.9 L0,-3.45 L0,9.75 L-6.1,7.9 L-8.3,7.1 L-10.3,5.1 Z" fill="#fff"/><path d="M-10.0,-3.0 L-10.0,5.0 L-8.3,6.9 L-6.1,7.7" fill="none" stroke="#1b1e23" stroke-width="1.45" stroke-linejoin="round"/><line x1="-6.0" y1="-0.3" x2="-6.0" y2="7.9" stroke="#1b1e23" stroke-width="1.15"/><line x1="-2.2" y1="0.6" x2="-2.2" y2="9.6" stroke="#7a8088" stroke-width="1.2"/><path d="M-10.0,-2.9 Q-10.0,-4.4 -8.3,-4.45 L-6.1,-3.8 L-0.6,-2.0 L0,-3.45" fill="none" stroke="#1b1e23" stroke-width="1.45" stroke-linejoin="round"/><path d="M-10.0,-2.5 L-6.1,-0.3 L-1.9,0.7 L0,-0.1" fill="none" stroke="#1b1e23" stroke-width="1.35" stroke-linejoin="round"/><path d="M0,-3.45 L19.7,-13.79 L19.7,-0.59 L0,9.75 Z" fill="#fff"/><path d="M0,-3.45 L19.10,-13.59 Q19.7,-13.39 19.7,-12.59 L19.7,-10.34 L0,0 Z" fill="#1b1e23"/><rect x="1.50" y="-4.50" width="2.8" height="1.8" rx="0.7" fill="#fff" transform="rotate(-27 2.90 -3.55)"/><rect x="8.70" y="-8.07" width="2.0" height="1.8" rx="0.7" fill="#fff" transform="rotate(-27 9.70 -7.12)"/><rect x="12.50" y="-10.06" width="2.0" height="1.8" rx="0.7" fill="#fff" transform="rotate(-27 13.50 -9.11)"/><rect x="16.30" y="-12.06" width="2.0" height="1.8" rx="0.7" fill="#fff" transform="rotate(-27 17.30 -11.11)"/><path d="M0,0 L19.7,-10.34 L19.7,-1.79 Q19.7,-0.59 18.60,0.01" fill="none" stroke="#1b1e23" stroke-width="1.4" stroke-linejoin="round"/><line x1="0" y1="-0.3" x2="0" y2="9.75" stroke="#1b1e23" stroke-width="1.4"/></g>
<g transform="translate(350.93,534.26)"><path d="M-10.3,-3.0 Q-10.3,-4.6 -8.3,-4.6 L-6.1,-3.9 L0,-3.45 L0,9.75 L-6.1,7.9 L-8.3,7.1 L-10.3,5.1 Z" fill="#fff"/><path d="M-10.0,-3.0 L-10.0,5.0 L-8.3,6.9 L-6.1,7.7" fill="none" stroke="#1b1e23" stroke-width="1.45" stroke-linejoin="round"/><line x1="-6.0" y1="-0.3" x2="-6.0" y2="7.9" stroke="#1b1e23" stroke-width="1.15"/><line x1="-2.2" y1="0.6" x2="-2.2" y2="9.6" stroke="#7a8088" stroke-width="1.2"/><path d="M-10.0,-2.9 Q-10.0,-4.4 -8.3,-4.45 L-6.1,-3.8 L-0.6,-2.0 L0,-3.45" fill="none" stroke="#1b1e23" stroke-width="1.45" stroke-linejoin="round"/><path d="M-10.0,-2.5 L-6.1,-0.3 L-1.9,0.7 L0,-0.1" fill="none" stroke="#1b1e23" stroke-width="1.35" stroke-linejoin="round"/><path d="M0,-3.45 L19.7,-13.79 L19.7,-0.59 L0,9.75 Z" fill="#fff"/><path d="M0,-3.45 L19.10,-13.59 Q19.7,-13.39 19.7,-12.59 L19.7,-10.34 L0,0 Z" fill="#1b1e23"/><rect x="1.50" y="-4.50" width="2.8" height="1.8" rx="0.7" fill="#fff" transform="rotate(-27 2.90 -3.55)"/><rect x="8.70" y="-8.07" width="2.0" height="1.8" rx="0.7" fill="#fff" transform="rotate(-27 9.70 -7.12)"/><rect x="12.50" y="-10.06" width="2.0" height="1.8" rx="0.7" fill="#fff" transform="rotate(-27 13.50 -9.11)"/><rect x="16.30" y="-12.06" width="2.0" height="1.8" rx="0.7" fill="#fff" transform="rotate(-27 17.30 -11.11)"/><path d="M0,0 L19.7,-10.34 L19.7,-1.79 Q19.7,-0.59 18.60,0.01" fill="none" stroke="#1b1e23" stroke-width="1.4" stroke-linejoin="round"/><line x1="0" y1="-0.3" x2="0" y2="9.75" stroke="#1b1e23" stroke-width="1.4"/></g>
<g transform="translate(350.93,547.44)"><path d="M-10.3,-3.0 Q-10.3,-4.6 -8.3,-4.6 L-6.1,-3.9 L0,-3.45 L0,9.75 L-6.1,7.9 L-8.3,7.1 L-10.3,5.1 Z" fill="#fff"/><path d="M-10.0,-3.0 L-10.0,5.0 L-8.3,6.9 L-6.1,7.7" fill="none" stroke="#1b1e23" stroke-width="1.45" stroke-linejoin="round"/><line x1="-6.0" y1="-0.3" x2="-6.0" y2="7.9" stroke="#1b1e23" stroke-width="1.15"/><line x1="-2.2" y1="0.6" x2="-2.2" y2="9.6" stroke="#7a8088" stroke-width="1.2"/><path d="M-10.0,-2.9 Q-10.0,-4.4 -8.3,-4.45 L-6.1,-3.8 L-0.6,-2.0 L0,-3.45" fill="none" stroke="#1b1e23" stroke-width="1.45" stroke-linejoin="round"/><path d="M-10.0,-2.5 L-6.1,-0.3 L-1.9,0.7 L0,-0.1" fill="none" stroke="#1b1e23" stroke-width="1.35" stroke-linejoin="round"/><path d="M0,-3.45 L19.7,-13.79 L19.7,-0.59 L0,9.75 Z" fill="#fff"/><path d="M0,-3.45 L19.10,-13.59 Q19.7,-13.39 19.7,-12.59 L19.7,-10.34 L0,0 Z" fill="#1b1e23"/><rect x="1.50" y="-4.50" width="2.8" height="1.8" rx="0.7" fill="#fff" transform="rotate(-27 2.90 -3.55)"/><rect x="8.70" y="-8.07" width="2.0" height="1.8" rx="0.7" fill="#fff" transform="rotate(-27 9.70 -7.12)"/><rect x="12.50" y="-10.06" width="2.0" height="1.8" rx="0.7" fill="#fff" transform="rotate(-27 13.50 -9.11)"/><rect x="16.30" y="-12.06" width="2.0" height="1.8" rx="0.7" fill="#fff" transform="rotate(-27 17.30 -11.11)"/><path d="M0,0 L19.7,-10.34 L19.7,-1.79 Q19.7,-0.59 18.60,0.01" fill="none" stroke="#1b1e23" stroke-width="1.4" stroke-linejoin="round"/><line x1="0" y1="-0.3" x2="0" y2="9.75" stroke="#1b1e23" stroke-width="1.4"/></g>
<g transform="translate(350.93,560.62)"><path d="M-10.3,-3.0 Q-10.3,-4.6 -8.3,-4.6 L-6.1,-3.9 L0,-3.45 L0,9.75 L-6.1,7.9 L-8.3,7.1 L-10.3,5.1 Z" fill="#fff"/><path d="M-10.0,-3.0 L-10.0,5.0 L-8.3,6.9 L-6.1,7.7" fill="none" stroke="#1b1e23" stroke-width="1.45" stroke-linejoin="round"/><line x1="-6.0" y1="-0.3" x2="-6.0" y2="7.9" stroke="#1b1e23" stroke-width="1.15"/><line x1="-2.2" y1="0.6" x2="-2.2" y2="9.6" stroke="#7a8088" stroke-width="1.2"/><path d="M-10.0,-2.9 Q-10.0,-4.4 -8.3,-4.45 L-6.1,-3.8 L-0.6,-2.0 L0,-3.45" fill="none" stroke="#1b1e23" stroke-width="1.45" stroke-linejoin="round"/><path d="M-10.0,-2.5 L-6.1,-0.3 L-1.9,0.7 L0,-0.1" fill="none" stroke="#1b1e23" stroke-width="1.35" stroke-linejoin="round"/><path d="M0,-3.45 L19.7,-13.79 L19.7,-0.59 L0,9.75 Z" fill="#fff"/><path d="M0,-3.45 L19.10,-13.59 Q19.7,-13.39 19.7,-12.59 L19.7,-10.34 L0,0 Z" fill="#1b1e23"/><rect x="1.50" y="-4.50" width="2.8" height="1.8" rx="0.7" fill="#fff" transform="rotate(-27 2.90 -3.55)"/><rect x="8.70" y="-8.07" width="2.0" height="1.8" rx="0.7" fill="#fff" transform="rotate(-27 9.70 -7.12)"/><rect x="12.50" y="-10.06" width="2.0" height="1.8" rx="0.7" fill="#fff" transform="rotate(-27 13.50 -9.11)"/><rect x="16.30" y="-12.06" width="2.0" height="1.8" rx="0.7" fill="#fff" transform="rotate(-27 17.30 -11.11)"/><path d="M0,0 L19.7,-10.34 L19.7,-1.79 Q19.7,-0.59 18.60,0.01" fill="none" stroke="#1b1e23" stroke-width="1.4" stroke-linejoin="round"/><line x1="0" y1="-0.3" x2="0" y2="9.75" stroke="#1b1e23" stroke-width="1.4"/></g>
<g transform="matrix(0.8502,-0.3472,0.2315,1.0817,351.20,571.60)"><path d="M-10.3,-3.0 Q-10.3,-4.6 -8.3,-4.6 L-6.1,-3.9 L0,-3.45 L0,9.75 L-6.1,7.9 L-8.3,7.1 L-10.3,5.1 Z" fill="#fff"/><path d="M-10.0,-3.0 L-10.0,5.0 L-8.3,6.9 L-6.1,7.7" fill="none" stroke="#1b1e23" stroke-width="1.45" stroke-linejoin="round"/><line x1="-6.0" y1="-0.3" x2="-6.0" y2="7.9" stroke="#1b1e23" stroke-width="1.15"/><line x1="-2.2" y1="0.6" x2="-2.2" y2="9.6" stroke="#7a8088" stroke-width="1.2"/><path d="M-10.0,-2.9 Q-10.0,-4.4 -8.3,-4.45 L-6.1,-3.8 L-0.6,-2.0 L0,-3.45" fill="none" stroke="#1b1e23" stroke-width="1.45" stroke-linejoin="round"/><path d="M-10.0,-2.5 L-6.1,-0.3 L-1.9,0.7 L0,-0.1" fill="none" stroke="#1b1e23" stroke-width="1.35" stroke-linejoin="round"/><path d="M-6.1,7.7 L0,9.75" fill="none" stroke="#1b1e23" stroke-width="1.4"/></g>
<g transform="matrix(1.1215,0.0429,0.2315,1.0817,351.20,571.60)"><path d="M0,-3.45 L19.7,-13.79 L19.7,-0.59 L0,9.75 Z" fill="#fff"/><path d="M0,-3.45 L19.10,-13.59 Q19.7,-13.39 19.7,-12.59 L19.7,-10.34 L0,0 Z" fill="#1b1e23"/><rect x="1.50" y="-4.50" width="2.8" height="1.8" rx="0.7" fill="#fff" transform="rotate(-27 2.90 -3.55)"/><rect x="8.70" y="-8.07" width="2.0" height="1.8" rx="0.7" fill="#fff" transform="rotate(-27 9.70 -7.12)"/><rect x="12.50" y="-10.06" width="2.0" height="1.8" rx="0.7" fill="#fff" transform="rotate(-27 13.50 -9.11)"/><rect x="16.30" y="-12.06" width="2.0" height="1.8" rx="0.7" fill="#fff" transform="rotate(-27 17.30 -11.11)"/><path d="M0,0 L19.7,-10.34 L19.7,-1.79 Q19.7,-0.59 18.60,0.01" fill="none" stroke="#1b1e23" stroke-width="1.4" stroke-linejoin="round"/><line x1="0" y1="-0.3" x2="0" y2="9.75" stroke="#1b1e23" stroke-width="1.4"/><path d="M0,9.75 L18.70,-0.09" fill="none" stroke="#1b1e23" stroke-width="1.4"/></g>
<g transform="matrix(0.7596,-0.5026,0.3351,1.0947,353.80,584.50)"><path d="M-10.3,-3.0 Q-10.3,-4.6 -8.3,-4.6 L-6.1,-3.9 L0,-3.45 L0,9.75 L-6.1,7.9 L-8.3,7.1 L-10.3,5.1 Z" fill="#fff"/><path d="M-10.0,-3.0 L-10.0,5.0 L-8.3,6.9 L-6.1,7.7" fill="none" stroke="#1b1e23" stroke-width="1.45" stroke-linejoin="round"/><line x1="-6.0" y1="-0.3" x2="-6.0" y2="7.9" stroke="#1b1e23" stroke-width="1.15"/><line x1="-2.2" y1="0.6" x2="-2.2" y2="9.6" stroke="#7a8088" stroke-width="1.2"/><path d="M-10.0,-2.9 Q-10.0,-4.4 -8.3,-4.45 L-6.1,-3.8 L-0.6,-2.0 L0,-3.45" fill="none" stroke="#1b1e23" stroke-width="1.45" stroke-linejoin="round"/><path d="M-10.0,-2.5 L-6.1,-0.3 L-1.9,0.7 L0,-0.1" fill="none" stroke="#1b1e23" stroke-width="1.35" stroke-linejoin="round"/><path d="M-6.1,7.7 L0,9.75" fill="none" stroke="#1b1e23" stroke-width="1.4"/></g>
<g transform="matrix(1.1759,0.0497,0.3351,1.0947,353.80,584.50)"><path d="M0,-3.45 L19.7,-13.79 L19.7,-0.59 L0,9.75 Z" fill="#fff"/><path d="M0,-3.45 L19.10,-13.59 Q19.7,-13.39 19.7,-12.59 L19.7,-10.34 L0,0 Z" fill="#1b1e23"/><rect x="1.50" y="-4.50" width="2.8" height="1.8" rx="0.7" fill="#fff" transform="rotate(-27 2.90 -3.55)"/><rect x="8.70" y="-8.07" width="2.0" height="1.8" rx="0.7" fill="#fff" transform="rotate(-27 9.70 -7.12)"/><rect x="12.50" y="-10.06" width="2.0" height="1.8" rx="0.7" fill="#fff" transform="rotate(-27 13.50 -9.11)"/><rect x="16.30" y="-12.06" width="2.0" height="1.8" rx="0.7" fill="#fff" transform="rotate(-27 17.30 -11.11)"/><path d="M0,0 L19.7,-10.34 L19.7,-1.79 Q19.7,-0.59 18.60,0.01" fill="none" stroke="#1b1e23" stroke-width="1.4" stroke-linejoin="round"/><line x1="0" y1="-0.3" x2="0" y2="9.75" stroke="#1b1e23" stroke-width="1.4"/><path d="M0,9.75 L18.70,-0.09" fill="none" stroke="#1b1e23" stroke-width="1.4"/></g>
<g transform="matrix(0.7173,-0.5670,0.3780,1.0953,359.30,597.60)"><path d="M-10.3,-3.0 Q-10.3,-4.6 -8.3,-4.6 L-6.1,-3.9 L0,-3.45 L0,9.75 L-6.1,7.9 L-8.3,7.1 L-10.3,5.1 Z" fill="#fff"/><path d="M-10.0,-3.0 L-10.0,5.0 L-8.3,6.9 L-6.1,7.7" fill="none" stroke="#1b1e23" stroke-width="1.45" stroke-linejoin="round"/><line x1="-6.0" y1="-0.3" x2="-6.0" y2="7.9" stroke="#1b1e23" stroke-width="1.15"/><line x1="-2.2" y1="0.6" x2="-2.2" y2="9.6" stroke="#7a8088" stroke-width="1.2"/><path d="M-10.0,-2.9 Q-10.0,-4.4 -8.3,-4.45 L-6.1,-3.8 L-0.6,-2.0 L0,-3.45" fill="none" stroke="#1b1e23" stroke-width="1.45" stroke-linejoin="round"/><path d="M-10.0,-2.5 L-6.1,-0.3 L-1.9,0.7 L0,-0.1" fill="none" stroke="#1b1e23" stroke-width="1.35" stroke-linejoin="round"/><path d="M-6.1,7.7 L0,9.75" fill="none" stroke="#1b1e23" stroke-width="1.4"/></g>
<g transform="matrix(1.1985,0.0500,0.3780,1.0953,359.30,597.60)"><path d="M0,-3.45 L19.7,-13.79 L19.7,-0.59 L0,9.75 Z" fill="#fff"/><path d="M0,-3.45 L19.10,-13.59 Q19.7,-13.39 19.7,-12.59 L19.7,-10.34 L0,0 Z" fill="#1b1e23"/><rect x="1.50" y="-4.50" width="2.8" height="1.8" rx="0.7" fill="#fff" transform="rotate(-27 2.90 -3.55)"/><rect x="8.70" y="-8.07" width="2.0" height="1.8" rx="0.7" fill="#fff" transform="rotate(-27 9.70 -7.12)"/><rect x="12.50" y="-10.06" width="2.0" height="1.8" rx="0.7" fill="#fff" transform="rotate(-27 13.50 -9.11)"/><rect x="16.30" y="-12.06" width="2.0" height="1.8" rx="0.7" fill="#fff" transform="rotate(-27 17.30 -11.11)"/><path d="M0,0 L19.7,-10.34 L19.7,-1.79 Q19.7,-0.59 18.60,0.01" fill="none" stroke="#1b1e23" stroke-width="1.4" stroke-linejoin="round"/><line x1="0" y1="-0.3" x2="0" y2="9.75" stroke="#1b1e23" stroke-width="1.4"/><path d="M0,9.75 L18.70,-0.09" fill="none" stroke="#1b1e23" stroke-width="1.4"/></g>
<path d="M355.8,619.0 L336.0,630.6 Q332.6,632.8 335.0,635.6 L367.0,655.0 Q371.0,657.6 375.2,655.6 L384.8,649.9 Q387.6,647.8 385.4,646.4 L376.4,641.1" fill="#fff" stroke="#1b1e23" stroke-width="1.2" stroke-linejoin="round"/><path d="M334.4,636.4 L366.8,656.2 Q371.0,658.9 375.4,656.8 L385.4,650.8" fill="none" stroke="#1b1e23" stroke-width="1.6"/><path d="M383.6,636.0 L391.8,641.1 Q395.0,643.4 398.6,642.0 L408.8,636.2 Q411.4,634.2 409.2,632.6 L392.8,621.6" fill="#fff" stroke="#1b1e23" stroke-width="1.2" stroke-linejoin="round"/><path d="M391.4,642.2 Q395.0,644.6 398.8,643.2 L409.6,637.0" fill="none" stroke="#1b1e23" stroke-width="1.6"/>
<g transform="matrix(0.5951,-0.7307,0.4872,1.0822,364.90,612.60)"><path d="M-10.3,-3.0 Q-10.3,-4.6 -8.3,-4.6 L-6.1,-3.9 L0,-3.45 L0,9.75 L-6.1,7.9 L-8.3,7.1 L-10.3,5.1 Z" fill="#fff"/><path d="M-10.0,-3.0 L-10.0,5.0 L-8.3,6.9 L-6.1,7.7" fill="none" stroke="#1b1e23" stroke-width="1.45" stroke-linejoin="round"/><line x1="-6.0" y1="-0.3" x2="-6.0" y2="7.9" stroke="#1b1e23" stroke-width="1.15"/><line x1="-2.2" y1="0.6" x2="-2.2" y2="9.6" stroke="#7a8088" stroke-width="1.2"/><path d="M-10.0,-2.9 Q-10.0,-4.4 -8.3,-4.45 L-6.1,-3.8 L-0.6,-2.0 L0,-3.45" fill="none" stroke="#1b1e23" stroke-width="1.45" stroke-linejoin="round"/><path d="M-10.0,-2.5 L-6.1,-0.3 L-1.9,0.7 L0,-0.1" fill="none" stroke="#1b1e23" stroke-width="1.35" stroke-linejoin="round"/><path d="M-6.1,7.7 L0,9.75" fill="none" stroke="#1b1e23" stroke-width="1.4"/></g>
<g transform="matrix(1.2558,0.0432,0.4872,1.0822,364.90,612.60)"><path d="M0,-3.45 L19.7,-13.79 L19.7,-0.59 L0,9.75 Z" fill="#fff"/><path d="M0,-3.45 L19.10,-13.59 Q19.7,-13.39 19.7,-12.59 L19.7,-10.34 L0,0 Z" fill="#1b1e23"/><rect x="1.50" y="-4.50" width="2.8" height="1.8" rx="0.7" fill="#fff" transform="rotate(-27 2.90 -3.55)"/><rect x="8.70" y="-8.07" width="2.0" height="1.8" rx="0.7" fill="#fff" transform="rotate(-27 9.70 -7.12)"/><rect x="12.50" y="-10.06" width="2.0" height="1.8" rx="0.7" fill="#fff" transform="rotate(-27 13.50 -9.11)"/><rect x="16.30" y="-12.06" width="2.0" height="1.8" rx="0.7" fill="#fff" transform="rotate(-27 17.30 -11.11)"/><path d="M0,0 L19.7,-10.34 L19.7,-1.79 Q19.7,-0.59 18.60,0.01" fill="none" stroke="#1b1e23" stroke-width="1.4" stroke-linejoin="round"/><line x1="0" y1="-0.3" x2="0" y2="9.75" stroke="#1b1e23" stroke-width="1.4"/><path d="M0,9.75 L18.70,-0.09" fill="none" stroke="#1b1e23" stroke-width="1.4"/></g>
<path d="M361.5,626.8 L382.6,614.8 L391.1,619.7 L370.0,630.9 Z" fill="#fff" stroke="#1b1e23" stroke-width="1.4" stroke-linejoin="round"/><path d="M361.5,626.8 L361.5,637.0 Q361.6,638.1 362.6,638.6 L370.0,641.1 L391.1,629.9 L391.1,619.7 L370.0,630.9 L370.0,641.1 M370.0,630.9 L361.5,626.8" fill="#fff" stroke="#1b1e23" stroke-width="1.4" stroke-linejoin="round"/><line x1="365.2" y1="628.8" x2="365.2" y2="639.0" stroke="#1b1e23" stroke-width="1.1"/><line x1="367.8" y1="629.8" x2="367.8" y2="640.0" stroke="#80868e" stroke-width="1.1"/><path d="M375.6,618.6 L380.4,616.0 L380.4,623.6 L375.6,626.2 Z" fill="#1b1e23"/><ellipse cx="378.0" cy="620.6" rx="0.9" ry="1.3" fill="#fff"/><path d="M382.2,615.6 L382.2,621.4 M384.4,616.4 L384.4,622.4 M386.4,617.4 L386.4,621.8" stroke="#1b1e23" stroke-width="1.2"/><path d="M373.2,622.4 L373.2,628.6 L376.2,626.8 Z" fill="#fff" stroke="#1b1e23" stroke-width="1.0"/>
<path d="M340.6,43.1 L361.0,31.0 L371.5,35.6 L350.93,46.6 Z" fill="#fff" stroke="#1b1e23" stroke-width="1.5" stroke-linejoin="round"/><path d="M343.0,43.6 L351.2,38.8 L351.2,45.0" fill="none" stroke="#1b1e23" stroke-width="1.2"/><path d="M353.5,37.3 L362.5,32.6 L368.5,35.4 L359.8,40.3 Z" fill="#1b1e23"/><rect x="354.80" y="37.10" width="1.6" height="1.4" rx="0.5" fill="#fff"/><rect x="357.50" y="35.70" width="1.6" height="1.4" rx="0.5" fill="#fff"/><rect x="360.20" y="34.30" width="1.6" height="1.4" rx="0.5" fill="#fff"/><path d="M352.8,40.3 L356.3,42.5 L352.8,44.6 Z" fill="#fff" stroke="#1b1e23" stroke-width="0.9"/><rect x="352.3" y="32.0" width="3.0" height="6.0" fill="#fff" stroke="#1b1e23" stroke-width="1.1"/><path d="M341.3,26.6 L347.5,22.6 L357.0,28.1 L354.3,29.7 L360.0,32.5 L362.3,31.2 L371.5,36.0 L364.9,39.8 L355.7,35.0 L358.3,33.6 L352.6,30.8 L349.9,32.3 Z" fill="#fff" stroke="#1b1e23" stroke-width="1.4" stroke-linejoin="round"/><ellipse cx="346.8" cy="26.4" rx="1.7" ry="1.1" fill="none" stroke="#1b1e23" stroke-width="1.1"/><ellipse cx="364.9" cy="36.4" rx="1.3" ry="1.0" fill="#1b1e23"/><path d="M340.6,43.1 L340.6,53.4 Q340.6,54.6 341.8,55.0" fill="none" stroke="#1b1e23" stroke-width="1.4"/><line x1="344.9" y1="45.5" x2="344.9" y2="55.8" stroke="#1b1e23" stroke-width="1.1"/><line x1="348.6" y1="46.9" x2="348.6" y2="56.8" stroke="#80868e" stroke-width="1.1"/>
</svg>
</body></html>
